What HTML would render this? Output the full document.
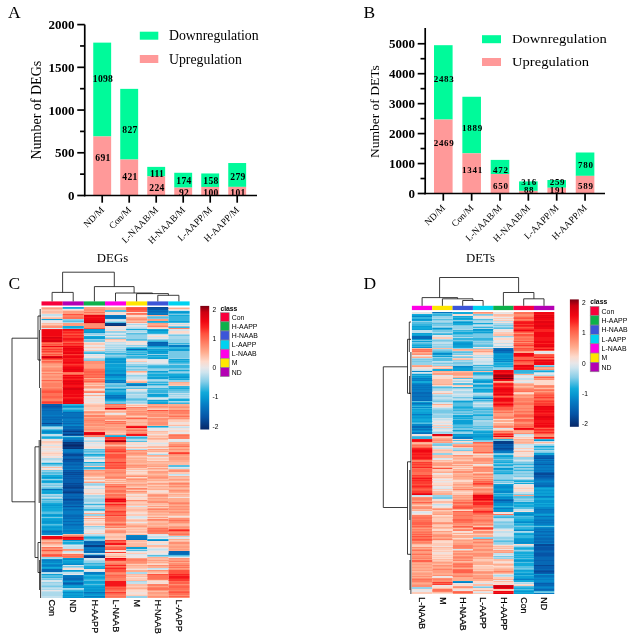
<!DOCTYPE html>
<html lang="en"><head><meta charset="utf-8"><title>DEGs and DETs figure</title>
<style>html,body{margin:0;padding:0;background:#fff}svg{display:block}text{white-space:pre}.s{font-family:"Liberation Serif", serif}.a{font-family:"Liberation Sans", sans-serif}.b{font-weight:bold}</style></head><body>
<svg width="640" height="641" viewBox="0 0 640 641">
<rect width="640" height="641" fill="#fff"/>
<g id="panelA">
<text class="s" x="8.0" y="18.3" font-size="17.5">A</text>
<rect x="93.25" y="42.63" width="17.90" height="93.82" fill="#00fa9a"/>
<rect x="93.25" y="136.45" width="17.90" height="59.05" fill="#ff9999"/>
<rect x="120.25" y="88.86" width="17.90" height="70.67" fill="#00fa9a"/>
<rect x="120.25" y="159.53" width="17.90" height="35.97" fill="#ff9999"/>
<rect x="147.25" y="166.87" width="17.90" height="9.48" fill="#00fa9a"/>
<rect x="147.25" y="176.36" width="17.90" height="19.14" fill="#ff9999"/>
<rect x="174.25" y="172.77" width="17.90" height="14.87" fill="#00fa9a"/>
<rect x="174.25" y="187.64" width="17.90" height="7.86" fill="#ff9999"/>
<rect x="201.25" y="173.45" width="17.90" height="13.50" fill="#00fa9a"/>
<rect x="201.25" y="186.96" width="17.90" height="8.54" fill="#ff9999"/>
<rect x="228.25" y="163.03" width="17.90" height="23.84" fill="#00fa9a"/>
<rect x="228.25" y="186.87" width="17.90" height="8.63" fill="#ff9999"/>
<g stroke="#000" stroke-width="1.7" fill="none">
<path d="M84.75 24.60V196.35"/>
<path d="M83.90 195.50H257.00"/>
<path d="M77.25 195.50H84.75"/>
<path d="M77.25 152.78H84.75"/>
<path d="M77.25 110.05H84.75"/>
<path d="M77.25 67.32H84.75"/>
<path d="M77.25 24.60H84.75"/>
<path d="M80.05 174.14H84.75"/>
<path d="M80.05 131.41H84.75"/>
<path d="M80.05 88.69H84.75"/>
<path d="M80.05 45.96H84.75"/>
<path d="M102.20 195.50V202.70"/>
<path d="M129.20 195.50V202.70"/>
<path d="M156.20 195.50V202.70"/>
<path d="M183.20 195.50V202.70"/>
<path d="M210.20 195.50V202.70"/>
<path d="M237.20 195.50V202.70"/>
</g>
<text class="s b" x="74.5" y="199.9" font-size="13" text-anchor="end">0</text>
<text class="s b" x="74.5" y="157.2" font-size="13" text-anchor="end">500</text>
<text class="s b" x="74.5" y="114.5" font-size="13" text-anchor="end">1000</text>
<text class="s b" x="74.5" y="71.7" font-size="13" text-anchor="end">1500</text>
<text class="s b" x="74.5" y="29.0" font-size="13" text-anchor="end">2000</text>
<text class="s b" x="103.0" y="161.1" font-size="9.6" text-anchor="middle" letter-spacing="0.3">691</text>
<text class="s b" x="103.0" y="81.6" font-size="9.6" text-anchor="middle" letter-spacing="0.3">1098</text>
<text class="s b" x="130.0" y="180.1" font-size="9.6" text-anchor="middle" letter-spacing="0.3">421</text>
<text class="s b" x="130.0" y="132.6" font-size="9.6" text-anchor="middle" letter-spacing="0.3">827</text>
<text class="s b" x="157.0" y="191.1" font-size="9.6" text-anchor="middle" letter-spacing="0.3">224</text>
<text class="s b" x="157.0" y="176.6" font-size="9.6" text-anchor="middle" letter-spacing="0.3">111</text>
<text class="s b" x="184.0" y="195.6" font-size="9.6" text-anchor="middle" letter-spacing="0.3">92</text>
<text class="s b" x="184.0" y="183.6" font-size="9.6" text-anchor="middle" letter-spacing="0.3">174</text>
<text class="s b" x="211.0" y="195.6" font-size="9.6" text-anchor="middle" letter-spacing="0.3">100</text>
<text class="s b" x="211.0" y="183.6" font-size="9.6" text-anchor="middle" letter-spacing="0.3">158</text>
<text class="s b" x="238.0" y="195.6" font-size="9.6" text-anchor="middle" letter-spacing="0.3">101</text>
<text class="s b" x="238.0" y="180.1" font-size="9.6" text-anchor="middle" letter-spacing="0.3">279</text>
<text class="s" font-size="9.5" text-anchor="end" transform="translate(104.7 210.5) rotate(-45)">ND/M</text>
<text class="s" font-size="9.5" text-anchor="end" transform="translate(131.7 210.5) rotate(-45)">Con/M</text>
<text class="s" font-size="9.5" text-anchor="end" transform="translate(158.7 210.5) rotate(-45)">L-NAAB/M</text>
<text class="s" font-size="9.5" text-anchor="end" transform="translate(185.7 210.5) rotate(-45)">H-NAAB/M</text>
<text class="s" font-size="9.5" text-anchor="end" transform="translate(212.7 210.5) rotate(-45)">L-AAPP/M</text>
<text class="s" font-size="9.5" text-anchor="end" transform="translate(239.7 210.5) rotate(-45)">H-AAPP/M</text>
<text class="s" font-size="14.0" text-anchor="middle" transform="translate(40.6 110.2) rotate(-90)">Number of DEGs</text>
<text class="s" font-size="12.8" text-anchor="middle" x="112.5" y="261.5">DEGs</text>
<rect x="139.8" y="31.7" width="18.5" height="8.0" fill="#00fa9a"/>
<rect x="139.8" y="55.0" width="18.5" height="8.0" fill="#ff9999"/>
<text class="s" font-size="13.8" transform="translate(169.0 40.3) scale(1.000 1)">Downregulation</text>
<text class="s" font-size="13.8" transform="translate(169.0 63.6) scale(1.000 1)">Upregulation</text>
</g>
<g id="panelB">
<text class="s" x="363.4" y="18.3" font-size="17.5">B</text>
<rect x="434.00" y="45.19" width="18.60" height="74.37" fill="#00fa9a"/>
<rect x="434.00" y="119.55" width="18.60" height="73.95" fill="#ff9999"/>
<rect x="462.35" y="96.76" width="18.60" height="56.58" fill="#00fa9a"/>
<rect x="462.35" y="153.34" width="18.60" height="40.16" fill="#ff9999"/>
<rect x="490.70" y="159.90" width="18.60" height="14.14" fill="#00fa9a"/>
<rect x="490.70" y="174.03" width="18.60" height="19.47" fill="#ff9999"/>
<rect x="519.05" y="181.40" width="18.60" height="9.46" fill="#00fa9a"/>
<rect x="519.05" y="190.86" width="18.60" height="2.64" fill="#ff9999"/>
<rect x="547.40" y="180.02" width="18.60" height="7.76" fill="#00fa9a"/>
<rect x="547.40" y="187.78" width="18.60" height="5.72" fill="#ff9999"/>
<rect x="575.75" y="152.50" width="18.60" height="23.36" fill="#00fa9a"/>
<rect x="575.75" y="175.86" width="18.60" height="17.64" fill="#ff9999"/>
<g stroke="#000" stroke-width="1.7" fill="none">
<path d="M425.20 28.00V194.35"/>
<path d="M424.35 193.50H605.00"/>
<path d="M417.70 193.50H425.20"/>
<path d="M417.70 163.55H425.20"/>
<path d="M417.70 133.60H425.20"/>
<path d="M417.70 103.65H425.20"/>
<path d="M417.70 73.70H425.20"/>
<path d="M417.70 43.75H425.20"/>
<path d="M420.50 178.53H425.20"/>
<path d="M420.50 148.57H425.20"/>
<path d="M420.50 118.62H425.20"/>
<path d="M420.50 88.67H425.20"/>
<path d="M420.50 58.72H425.20"/>
<path d="M443.30 193.50V200.70"/>
<path d="M471.65 193.50V200.70"/>
<path d="M500.00 193.50V200.70"/>
<path d="M528.35 193.50V200.70"/>
<path d="M556.70 193.50V200.70"/>
<path d="M585.05 193.50V200.70"/>
</g>
<text class="s b" x="414.9" y="197.9" font-size="13" text-anchor="end">0</text>
<text class="s b" x="414.9" y="168.0" font-size="13" text-anchor="end">1000</text>
<text class="s b" x="414.9" y="138.0" font-size="13" text-anchor="end">2000</text>
<text class="s b" x="414.9" y="108.0" font-size="13" text-anchor="end">3000</text>
<text class="s b" x="414.9" y="78.1" font-size="13" text-anchor="end">4000</text>
<text class="s b" x="414.9" y="48.1" font-size="13" text-anchor="end">5000</text>
<text class="s b" x="444.1" y="146.3" font-size="9.0" text-anchor="middle" letter-spacing="0.7">2469</text>
<text class="s b" x="444.1" y="82.3" font-size="9.0" text-anchor="middle" letter-spacing="0.7">2483</text>
<text class="s b" x="472.5" y="172.8" font-size="9.0" text-anchor="middle" letter-spacing="0.7">1341</text>
<text class="s b" x="472.5" y="131.3" font-size="9.0" text-anchor="middle" letter-spacing="0.7">1889</text>
<text class="s b" x="500.8" y="189.3" font-size="9.0" text-anchor="middle" letter-spacing="0.7">650</text>
<text class="s b" x="500.8" y="172.8" font-size="9.0" text-anchor="middle" letter-spacing="0.7">472</text>
<text class="s b" x="529.1" y="192.8" font-size="9.0" text-anchor="middle" letter-spacing="0.7">88</text>
<text class="s b" x="529.1" y="184.8" font-size="9.0" text-anchor="middle" letter-spacing="0.7">316</text>
<text class="s b" x="557.5" y="192.8" font-size="9.0" text-anchor="middle" letter-spacing="0.7">191</text>
<text class="s b" x="557.5" y="184.8" font-size="9.0" text-anchor="middle" letter-spacing="0.7">259</text>
<text class="s b" x="585.8" y="189.3" font-size="9.0" text-anchor="middle" letter-spacing="0.7">589</text>
<text class="s b" x="585.8" y="168.3" font-size="9.0" text-anchor="middle" letter-spacing="0.7">780</text>
<text class="s" font-size="9.5" text-anchor="end" transform="translate(445.8 208.5) rotate(-45)">ND/M</text>
<text class="s" font-size="9.5" text-anchor="end" transform="translate(474.2 208.5) rotate(-45)">Con/M</text>
<text class="s" font-size="9.5" text-anchor="end" transform="translate(502.5 208.5) rotate(-45)">L-NAAB/M</text>
<text class="s" font-size="9.5" text-anchor="end" transform="translate(530.8 208.5) rotate(-45)">H-NAAB/M</text>
<text class="s" font-size="9.5" text-anchor="end" transform="translate(559.2 208.5) rotate(-45)">L-AAPP/M</text>
<text class="s" font-size="9.5" text-anchor="end" transform="translate(587.5 208.5) rotate(-45)">H-AAPP/M</text>
<text class="s" font-size="13.5" text-anchor="middle" transform="translate(379.3 111.7) rotate(-90)">Number of DETs</text>
<text class="s" font-size="12.8" text-anchor="middle" x="480.5" y="261.5">DETs</text>
<rect x="482.0" y="35.2" width="19.0" height="8.0" fill="#00fa9a"/>
<rect x="482.0" y="58.0" width="19.0" height="8.0" fill="#ff9999"/>
<text class="s" font-size="13.4" transform="translate(512.0 42.7) scale(1.090 1)">Downregulation</text>
<text class="s" font-size="13.4" transform="translate(512.0 65.5) scale(1.090 1)">Upregulation</text>
</g>
<g id="panelC">
<text class="s" x="8.4" y="288.7" font-size="17.5">C</text>
<rect x="41.50" y="301.40" width="21.20" height="4.10" fill="#f8003c"/>
<rect x="62.65" y="301.40" width="21.20" height="4.10" fill="#b400b4"/>
<rect x="83.80" y="301.40" width="21.20" height="4.10" fill="#0db14b"/>
<rect x="104.95" y="301.40" width="21.20" height="4.10" fill="#ff00e6"/>
<rect x="126.10" y="301.40" width="21.20" height="4.10" fill="#ffe600"/>
<rect x="147.25" y="301.40" width="21.20" height="4.10" fill="#3c55d8"/>
<rect x="168.40" y="301.40" width="21.20" height="4.10" fill="#00d2f0"/>
<g fill="none" stroke-width="1.06">
<path stroke="#febba3" d="M41.50 307.5h21.20M41.50 309.5h21.20M41.50 311.5h21.20M41.50 312.5h21.20M41.50 318.5h21.20M41.50 323.5h21.20M41.50 467.5h21.20M41.50 541.5h21.20M41.50 544.5h21.20M62.65 534.5h21.20M83.80 383.5h21.20M83.80 388.5h21.20M83.80 405.5h21.20M83.80 406.5h21.20M83.80 414.5h21.20M83.80 476.5h21.20M83.80 478.5h21.20M83.80 479.5h21.20M83.80 516.5h21.20M83.80 524.5h21.20M104.95 307.5h21.20M104.95 339.5h21.20M104.95 412.5h21.20M104.95 431.5h21.20M104.95 432.5h21.20M104.95 445.5h21.20M104.95 529.5h21.20M104.95 533.5h21.20M104.95 536.5h21.20M104.95 537.5h21.20M126.10 321.5h21.20M126.10 381.5h21.20M126.10 405.5h21.20M126.10 420.5h21.20M126.10 421.5h21.20M126.10 423.5h21.20M126.10 424.5h21.20M126.10 447.5h21.20M126.10 457.5h21.20M126.10 459.5h21.20M126.10 463.5h21.20M126.10 469.5h21.20M126.10 482.5h21.20M126.10 483.5h21.20M126.10 486.5h21.20M126.10 493.5h21.20M126.10 501.5h21.20M126.10 504.5h21.20M126.10 509.5h21.20M126.10 510.5h21.20M126.10 520.5h21.20M126.10 524.5h21.20M126.10 527.5h21.20M126.10 529.5h21.20M126.10 531.5h21.20M126.10 532.5h21.20M126.10 534.5h21.20M126.10 540.5h21.20M126.10 541.5h21.20M126.10 543.5h21.20M126.10 544.5h21.20M126.10 545.5h21.20M126.10 566.5h21.20M126.10 567.5h21.20M126.10 574.5h21.20M126.10 576.5h21.20M126.10 580.5h21.20M126.10 584.5h21.20M126.10 585.5h21.20M126.10 587.5h21.20M147.25 408.5h21.20M147.25 417.5h21.20M147.25 431.5h21.20M147.25 436.5h21.20M147.25 439.5h21.20M147.25 446.5h21.20M147.25 447.5h21.20M147.25 450.5h21.20M147.25 456.5h21.20M147.25 462.5h21.20M147.25 463.5h21.20M147.25 469.5h21.20M147.25 474.5h21.20M147.25 479.5h21.20M147.25 487.5h21.20M147.25 488.5h21.20M147.25 497.5h21.20M147.25 503.5h21.20M147.25 504.5h21.20M147.25 513.5h21.20M147.25 515.5h21.20M147.25 521.5h21.20M147.25 522.5h21.20M147.25 525.5h21.20M147.25 545.5h21.20M147.25 546.5h21.20M147.25 558.5h21.20M147.25 559.5h21.20M147.25 561.5h21.20M147.25 572.5h21.20M147.25 591.5h21.20M168.40 383.5h21.20M168.40 384.5h21.20M168.40 419.5h21.20M168.40 425.5h21.20M168.40 462.5h21.20M168.40 463.5h21.20M168.40 464.5h21.20M168.40 477.5h21.20M168.40 478.5h21.20M168.40 488.5h21.20M168.40 495.5h21.20M168.40 496.5h21.20M168.40 515.5h21.20M168.40 524.5h21.20M168.40 525.5h21.20M168.40 541.5h21.20"/>
<path stroke="#ff9d80" d="M41.50 308.5h21.20M41.50 364.5h21.20M41.50 365.5h21.20M41.50 367.5h21.20M41.50 374.5h21.20M41.50 375.5h21.20M41.50 378.5h21.20M41.50 379.5h21.20M41.50 543.5h21.20M41.50 552.5h21.20M41.50 553.5h21.20M62.65 311.5h21.20M62.65 312.5h21.20M62.65 313.5h21.20M62.65 323.5h21.20M62.65 324.5h21.20M62.65 325.5h21.20M62.65 550.5h21.20M83.80 307.5h21.20M83.80 308.5h21.20M83.80 311.5h21.20M83.80 313.5h21.20M83.80 364.5h21.20M83.80 365.5h21.20M83.80 366.5h21.20M83.80 367.5h21.20M83.80 386.5h21.20M83.80 387.5h21.20M83.80 411.5h21.20M83.80 423.5h21.20M83.80 427.5h21.20M83.80 428.5h21.20M83.80 430.5h21.20M83.80 473.5h21.20M83.80 474.5h21.20M83.80 482.5h21.20M83.80 518.5h21.20M104.95 416.5h21.20M104.95 417.5h21.20M104.95 419.5h21.20M104.95 424.5h21.20M104.95 425.5h21.20M104.95 426.5h21.20M104.95 428.5h21.20M104.95 429.5h21.20M104.95 469.5h21.20M104.95 474.5h21.20M104.95 475.5h21.20M104.95 493.5h21.20M104.95 522.5h21.20M104.95 526.5h21.20M104.95 530.5h21.20M104.95 545.5h21.20M126.10 318.5h21.20M126.10 322.5h21.20M126.10 408.5h21.20M126.10 409.5h21.20M126.10 412.5h21.20M126.10 417.5h21.20M126.10 425.5h21.20M126.10 428.5h21.20M126.10 431.5h21.20M126.10 452.5h21.20M126.10 454.5h21.20M126.10 466.5h21.20M126.10 467.5h21.20M126.10 484.5h21.20M126.10 489.5h21.20M126.10 526.5h21.20M126.10 558.5h21.20M126.10 563.5h21.20M147.25 319.5h21.20M147.25 320.5h21.20M147.25 323.5h21.20M147.25 325.5h21.20M147.25 404.5h21.20M147.25 407.5h21.20M147.25 413.5h21.20M147.25 420.5h21.20M147.25 421.5h21.20M147.25 449.5h21.20M147.25 466.5h21.20M147.25 468.5h21.20M147.25 471.5h21.20M147.25 472.5h21.20M147.25 476.5h21.20M147.25 478.5h21.20M147.25 483.5h21.20M147.25 494.5h21.20M147.25 496.5h21.20M147.25 498.5h21.20M147.25 506.5h21.20M147.25 508.5h21.20M147.25 511.5h21.20M147.25 517.5h21.20M147.25 527.5h21.20M147.25 560.5h21.20M147.25 586.5h21.20M147.25 590.5h21.20M147.25 592.5h21.20M147.25 593.5h21.20M147.25 597.5h21.20M168.40 406.5h21.20M168.40 414.5h21.20M168.40 417.5h21.20M168.40 455.5h21.20M168.40 457.5h21.20M168.40 458.5h21.20M168.40 459.5h21.20M168.40 479.5h21.20M168.40 491.5h21.20M168.40 504.5h21.20M168.40 507.5h21.20M168.40 508.5h21.20M168.40 511.5h21.20M168.40 526.5h21.20M168.40 528.5h21.20M168.40 535.5h21.20M168.40 546.5h21.20M168.40 547.5h21.20M168.40 549.5h21.20M168.40 559.5h21.20M168.40 560.5h21.20M168.40 568.5h21.20"/>
<path stroke="#fecbb7" d="M41.50 310.5h21.20M41.50 313.5h21.20M41.50 317.5h21.20M41.50 324.5h21.20M41.50 441.5h21.20M41.50 442.5h21.20M41.50 453.5h21.20M41.50 545.5h21.20M62.65 310.5h21.20M83.80 343.5h21.20M83.80 344.5h21.20M83.80 347.5h21.20M83.80 350.5h21.20M83.80 385.5h21.20M83.80 390.5h21.20M83.80 404.5h21.20M83.80 407.5h21.20M83.80 408.5h21.20M83.80 409.5h21.20M83.80 466.5h21.20M83.80 481.5h21.20M83.80 493.5h21.20M83.80 520.5h21.20M83.80 523.5h21.20M83.80 533.5h21.20M104.95 410.5h21.20M104.95 420.5h21.20M104.95 433.5h21.20M104.95 479.5h21.20M104.95 481.5h21.20M104.95 483.5h21.20M104.95 528.5h21.20M104.95 534.5h21.20M104.95 535.5h21.20M104.95 538.5h21.20M104.95 539.5h21.20M104.95 554.5h21.20M104.95 555.5h21.20M104.95 557.5h21.20M126.10 361.5h21.20M126.10 372.5h21.20M126.10 416.5h21.20M126.10 456.5h21.20M126.10 468.5h21.20M126.10 471.5h21.20M126.10 474.5h21.20M126.10 487.5h21.20M126.10 490.5h21.20M126.10 496.5h21.20M126.10 502.5h21.20M126.10 503.5h21.20M126.10 505.5h21.20M126.10 507.5h21.20M126.10 508.5h21.20M126.10 511.5h21.20M126.10 514.5h21.20M126.10 515.5h21.20M126.10 519.5h21.20M126.10 521.5h21.20M126.10 523.5h21.20M126.10 528.5h21.20M126.10 530.5h21.20M126.10 542.5h21.20M126.10 553.5h21.20M126.10 564.5h21.20M126.10 568.5h21.20M126.10 575.5h21.20M126.10 578.5h21.20M126.10 579.5h21.20M126.10 586.5h21.20M126.10 589.5h21.20M126.10 595.5h21.20M147.25 327.5h21.20M147.25 409.5h21.20M147.25 432.5h21.20M147.25 433.5h21.20M147.25 435.5h21.20M147.25 437.5h21.20M147.25 458.5h21.20M147.25 459.5h21.20M147.25 467.5h21.20M147.25 470.5h21.20M147.25 481.5h21.20M147.25 482.5h21.20M147.25 485.5h21.20M147.25 493.5h21.20M147.25 505.5h21.20M147.25 507.5h21.20M147.25 516.5h21.20M147.25 518.5h21.20M147.25 563.5h21.20M147.25 573.5h21.20M147.25 580.5h21.20M168.40 385.5h21.20M168.40 420.5h21.20M168.40 421.5h21.20M168.40 472.5h21.20M168.40 473.5h21.20M168.40 481.5h21.20M168.40 493.5h21.20M168.40 517.5h21.20M168.40 540.5h21.20"/>
<path stroke="#c2e0ed" d="M41.50 314.5h21.20M41.50 315.5h21.20M41.50 434.5h21.20M41.50 435.5h21.20M41.50 460.5h21.20M41.50 466.5h21.20M41.50 497.5h21.20M41.50 573.5h21.20M41.50 588.5h21.20M41.50 591.5h21.20M41.50 596.5h21.20M41.50 597.5h21.20M62.65 546.5h21.20M62.65 547.5h21.20M62.65 548.5h21.20M62.65 551.5h21.20M62.65 572.5h21.20M62.65 573.5h21.20M83.80 335.5h21.20M83.80 437.5h21.20M83.80 440.5h21.20M83.80 459.5h21.20M83.80 488.5h21.20M83.80 497.5h21.20M83.80 502.5h21.20M83.80 506.5h21.20M83.80 527.5h21.20M83.80 528.5h21.20M83.80 534.5h21.20M83.80 553.5h21.20M104.95 319.5h21.20M104.95 334.5h21.20M104.95 342.5h21.20M104.95 344.5h21.20M104.95 346.5h21.20M104.95 348.5h21.20M126.10 327.5h21.20M126.10 332.5h21.20M126.10 346.5h21.20M126.10 362.5h21.20M126.10 377.5h21.20M126.10 378.5h21.20M126.10 391.5h21.20M126.10 394.5h21.20M126.10 582.5h21.20M126.10 583.5h21.20M147.25 334.5h21.20M147.25 536.5h21.20M147.25 537.5h21.20M147.25 549.5h21.20M147.25 568.5h21.20M168.40 324.5h21.20M168.40 393.5h21.20M168.40 395.5h21.20M168.40 397.5h21.20M168.40 427.5h21.20M168.40 468.5h21.20M168.40 474.5h21.20"/>
<path stroke="#e8e6e8" d="M41.50 316.5h21.20M41.50 321.5h21.20M41.50 322.5h21.20M41.50 440.5h21.20M41.50 448.5h21.20M41.50 450.5h21.20M41.50 456.5h21.20M41.50 468.5h21.20M41.50 590.5h21.20M62.65 309.5h21.20M62.65 574.5h21.20M83.80 345.5h21.20M83.80 349.5h21.20M83.80 354.5h21.20M83.80 356.5h21.20M83.80 393.5h21.20M83.80 397.5h21.20M83.80 402.5h21.20M83.80 439.5h21.20M83.80 444.5h21.20M83.80 445.5h21.20M83.80 448.5h21.20M83.80 460.5h21.20M83.80 461.5h21.20M83.80 480.5h21.20M83.80 486.5h21.20M83.80 487.5h21.20M83.80 512.5h21.20M83.80 530.5h21.20M83.80 532.5h21.20M83.80 570.5h21.20M104.95 327.5h21.20M104.95 328.5h21.20M104.95 336.5h21.20M104.95 413.5h21.20M126.10 323.5h21.20M126.10 325.5h21.20M126.10 343.5h21.20M126.10 373.5h21.20M126.10 445.5h21.20M126.10 518.5h21.20M126.10 522.5h21.20M126.10 555.5h21.20M126.10 556.5h21.20M126.10 557.5h21.20M147.25 335.5h21.20M147.25 338.5h21.20M147.25 360.5h21.20M147.25 361.5h21.20M147.25 362.5h21.20M147.25 428.5h21.20M147.25 429.5h21.20M147.25 430.5h21.20M147.25 453.5h21.20M147.25 535.5h21.20M147.25 538.5h21.20M147.25 553.5h21.20M168.40 429.5h21.20M168.40 432.5h21.20M168.40 433.5h21.20M168.40 439.5h21.20M168.40 440.5h21.20M168.40 557.5h21.20"/>
<path stroke="#0ca0d5" d="M41.50 319.5h21.20M41.50 430.5h21.20M41.50 433.5h21.20M41.50 481.5h21.20M41.50 490.5h21.20M41.50 492.5h21.20M41.50 504.5h21.20M41.50 507.5h21.20M41.50 514.5h21.20M41.50 519.5h21.20M41.50 520.5h21.20M41.50 523.5h21.20M41.50 526.5h21.20M41.50 528.5h21.20M41.50 529.5h21.20M41.50 563.5h21.20M41.50 568.5h21.20M41.50 574.5h21.20M62.65 407.5h21.20M62.65 410.5h21.20M62.65 561.5h21.20M62.65 562.5h21.20M62.65 570.5h21.20M62.65 586.5h21.20M62.65 593.5h21.20M62.65 594.5h21.20M62.65 596.5h21.20M83.80 330.5h21.20M83.80 331.5h21.20M83.80 337.5h21.20M83.80 338.5h21.20M83.80 568.5h21.20M83.80 577.5h21.20M83.80 581.5h21.20M83.80 582.5h21.20M83.80 586.5h21.20M83.80 588.5h21.20M83.80 591.5h21.20M83.80 595.5h21.20M104.95 358.5h21.20M104.95 360.5h21.20M104.95 364.5h21.20M104.95 365.5h21.20M104.95 366.5h21.20M104.95 368.5h21.20M104.95 369.5h21.20M104.95 372.5h21.20M104.95 373.5h21.20M104.95 393.5h21.20M104.95 394.5h21.20M126.10 383.5h21.20M126.10 547.5h21.20M126.10 548.5h21.20M147.25 346.5h21.20M147.25 349.5h21.20M147.25 352.5h21.20M147.25 353.5h21.20M147.25 355.5h21.20M147.25 358.5h21.20M147.25 371.5h21.20M147.25 377.5h21.20M147.25 378.5h21.20M147.25 394.5h21.20M147.25 395.5h21.20M147.25 400.5h21.20M147.25 403.5h21.20M168.40 311.5h21.20M168.40 321.5h21.20M168.40 349.5h21.20M168.40 350.5h21.20M168.40 359.5h21.20M168.40 376.5h21.20"/>
<path stroke="#d7e5ec" d="M41.50 320.5h21.20M41.50 328.5h21.20M41.50 445.5h21.20M41.50 461.5h21.20M41.50 535.5h21.20M41.50 580.5h21.20M41.50 581.5h21.20M62.65 545.5h21.20M62.65 552.5h21.20M62.65 565.5h21.20M83.80 355.5h21.20M83.80 438.5h21.20M83.80 443.5h21.20M83.80 457.5h21.20M83.80 511.5h21.20M83.80 529.5h21.20M83.80 558.5h21.20M83.80 559.5h21.20M83.80 571.5h21.20M104.95 320.5h21.20M104.95 329.5h21.20M104.95 333.5h21.20M104.95 343.5h21.20M126.10 326.5h21.20M126.10 363.5h21.20M126.10 374.5h21.20M126.10 379.5h21.20M126.10 390.5h21.20M126.10 506.5h21.20M126.10 516.5h21.20M126.10 517.5h21.20M126.10 551.5h21.20M126.10 554.5h21.20M147.25 337.5h21.20M147.25 359.5h21.20M147.25 363.5h21.20M147.25 398.5h21.20M147.25 443.5h21.20M147.25 534.5h21.20M147.25 544.5h21.20M147.25 548.5h21.20M147.25 550.5h21.20M147.25 554.5h21.20M147.25 569.5h21.20M168.40 310.5h21.20M168.40 329.5h21.20M168.40 330.5h21.20M168.40 426.5h21.20M168.40 441.5h21.20M168.40 467.5h21.20M168.40 475.5h21.20M168.40 538.5h21.20"/>
<path stroke="#ffac8e" d="M41.50 325.5h21.20M41.50 366.5h21.20M41.50 372.5h21.20M41.50 540.5h21.20M83.80 378.5h21.20M83.80 384.5h21.20M83.80 395.5h21.20M83.80 413.5h21.20M83.80 417.5h21.20M83.80 426.5h21.20M83.80 431.5h21.20M83.80 471.5h21.20M83.80 472.5h21.20M83.80 475.5h21.20M83.80 513.5h21.20M104.95 308.5h21.20M104.95 309.5h21.20M104.95 411.5h21.20M104.95 415.5h21.20M104.95 427.5h21.20M104.95 430.5h21.20M104.95 434.5h21.20M104.95 480.5h21.20M104.95 482.5h21.20M104.95 556.5h21.20M126.10 317.5h21.20M126.10 320.5h21.20M126.10 371.5h21.20M126.10 382.5h21.20M126.10 410.5h21.20M126.10 415.5h21.20M126.10 419.5h21.20M126.10 422.5h21.20M126.10 451.5h21.20M126.10 455.5h21.20M126.10 458.5h21.20M126.10 460.5h21.20M126.10 461.5h21.20M126.10 462.5h21.20M126.10 464.5h21.20M126.10 475.5h21.20M126.10 478.5h21.20M126.10 480.5h21.20M126.10 481.5h21.20M126.10 485.5h21.20M126.10 492.5h21.20M126.10 525.5h21.20M126.10 546.5h21.20M126.10 565.5h21.20M126.10 570.5h21.20M126.10 571.5h21.20M126.10 588.5h21.20M147.25 315.5h21.20M147.25 324.5h21.20M147.25 405.5h21.20M147.25 425.5h21.20M147.25 438.5h21.20M147.25 451.5h21.20M147.25 455.5h21.20M147.25 461.5h21.20M147.25 464.5h21.20M147.25 465.5h21.20M147.25 473.5h21.20M147.25 475.5h21.20M147.25 480.5h21.20M147.25 484.5h21.20M147.25 486.5h21.20M147.25 489.5h21.20M147.25 499.5h21.20M147.25 500.5h21.20M147.25 510.5h21.20M147.25 512.5h21.20M147.25 514.5h21.20M147.25 523.5h21.20M147.25 524.5h21.20M147.25 526.5h21.20M147.25 557.5h21.20M147.25 562.5h21.20M147.25 566.5h21.20M147.25 567.5h21.20M147.25 571.5h21.20M147.25 594.5h21.20M147.25 595.5h21.20M168.40 308.5h21.20M168.40 382.5h21.20M168.40 404.5h21.20M168.40 405.5h21.20M168.40 408.5h21.20M168.40 409.5h21.20M168.40 442.5h21.20M168.40 443.5h21.20M168.40 447.5h21.20M168.40 448.5h21.20M168.40 450.5h21.20M168.40 451.5h21.20M168.40 456.5h21.20M168.40 460.5h21.20M168.40 461.5h21.20M168.40 469.5h21.20M168.40 476.5h21.20M168.40 480.5h21.20M168.40 482.5h21.20M168.40 485.5h21.20M168.40 487.5h21.20M168.40 489.5h21.20M168.40 492.5h21.20M168.40 494.5h21.20M168.40 498.5h21.20M168.40 499.5h21.20M168.40 500.5h21.20M168.40 501.5h21.20M168.40 505.5h21.20M168.40 510.5h21.20M168.40 513.5h21.20M168.40 514.5h21.20M168.40 523.5h21.20M168.40 539.5h21.20M168.40 544.5h21.20M168.40 545.5h21.20M168.40 548.5h21.20M168.40 550.5h21.20M168.40 562.5h21.20"/>
<path stroke="#ff8f72" d="M41.50 326.5h21.20M41.50 327.5h21.20M41.50 360.5h21.20M41.50 363.5h21.20M41.50 368.5h21.20M41.50 369.5h21.20M41.50 371.5h21.20M41.50 376.5h21.20M41.50 377.5h21.20M41.50 381.5h21.20M41.50 382.5h21.20M41.50 387.5h21.20M41.50 542.5h21.20M41.50 548.5h21.20M41.50 549.5h21.20M41.50 551.5h21.20M62.65 535.5h21.20M62.65 549.5h21.20M83.80 309.5h21.20M83.80 310.5h21.20M83.80 324.5h21.20M83.80 325.5h21.20M83.80 326.5h21.20M83.80 327.5h21.20M83.80 361.5h21.20M83.80 362.5h21.20M83.80 363.5h21.20M83.80 368.5h21.20M83.80 382.5h21.20M83.80 391.5h21.20M83.80 412.5h21.20M83.80 418.5h21.20M83.80 419.5h21.20M83.80 421.5h21.20M83.80 422.5h21.20M83.80 424.5h21.20M83.80 425.5h21.20M83.80 429.5h21.20M83.80 470.5h21.20M104.95 405.5h21.20M104.95 418.5h21.20M104.95 422.5h21.20M104.95 444.5h21.20M104.95 446.5h21.20M104.95 470.5h21.20M104.95 471.5h21.20M104.95 473.5h21.20M104.95 476.5h21.20M104.95 478.5h21.20M104.95 485.5h21.20M104.95 488.5h21.20M104.95 489.5h21.20M104.95 531.5h21.20M104.95 532.5h21.20M104.95 561.5h21.20M104.95 562.5h21.20M104.95 573.5h21.20M126.10 319.5h21.20M126.10 411.5h21.20M126.10 413.5h21.20M126.10 414.5h21.20M126.10 429.5h21.20M126.10 432.5h21.20M126.10 450.5h21.20M126.10 453.5h21.20M126.10 465.5h21.20M126.10 476.5h21.20M126.10 479.5h21.20M126.10 491.5h21.20M126.10 500.5h21.20M126.10 561.5h21.20M126.10 562.5h21.20M147.25 406.5h21.20M147.25 411.5h21.20M147.25 412.5h21.20M147.25 414.5h21.20M147.25 415.5h21.20M147.25 416.5h21.20M147.25 418.5h21.20M147.25 419.5h21.20M147.25 422.5h21.20M147.25 423.5h21.20M147.25 424.5h21.20M147.25 477.5h21.20M147.25 495.5h21.20M147.25 501.5h21.20M147.25 502.5h21.20M147.25 520.5h21.20M147.25 565.5h21.20M147.25 570.5h21.20M147.25 596.5h21.20M168.40 407.5h21.20M168.40 415.5h21.20M168.40 418.5h21.20M168.40 434.5h21.20M168.40 444.5h21.20M168.40 445.5h21.20M168.40 449.5h21.20M168.40 454.5h21.20M168.40 470.5h21.20M168.40 471.5h21.20M168.40 484.5h21.20M168.40 486.5h21.20M168.40 490.5h21.20M168.40 502.5h21.20M168.40 506.5h21.20M168.40 509.5h21.20M168.40 512.5h21.20M168.40 518.5h21.20M168.40 519.5h21.20M168.40 521.5h21.20M168.40 522.5h21.20M168.40 527.5h21.20M168.40 532.5h21.20M168.40 542.5h21.20M168.40 543.5h21.20M168.40 558.5h21.20M168.40 563.5h21.20M168.40 564.5h21.20M168.40 566.5h21.20M168.40 569.5h21.20M168.40 584.5h21.20M168.40 595.5h21.20M168.40 597.5h21.20"/>
<path stroke="#f5151a" d="M41.50 329.5h21.20M41.50 336.5h21.20M62.65 330.5h21.20M62.65 338.5h21.20M62.65 339.5h21.20M62.65 347.5h21.20M62.65 351.5h21.20M62.65 355.5h21.20M62.65 359.5h21.20M62.65 360.5h21.20M62.65 361.5h21.20M62.65 363.5h21.20M62.65 366.5h21.20M62.65 378.5h21.20M62.65 385.5h21.20M62.65 386.5h21.20M62.65 394.5h21.20M62.65 398.5h21.20M62.65 538.5h21.20M62.65 539.5h21.20M83.80 317.5h21.20M104.95 500.5h21.20M104.95 543.5h21.20M104.95 544.5h21.20M104.95 581.5h21.20M104.95 582.5h21.20M104.95 583.5h21.20M104.95 584.5h21.20M104.95 585.5h21.20M126.10 426.5h21.20M126.10 434.5h21.20M126.10 435.5h21.20M168.40 576.5h21.20M168.40 577.5h21.20"/>
<path stroke="#f00612" d="M41.50 330.5h21.20M41.50 331.5h21.20M41.50 332.5h21.20M41.50 333.5h21.20M41.50 334.5h21.20M41.50 335.5h21.20M41.50 339.5h21.20M41.50 346.5h21.20M41.50 536.5h21.20M41.50 537.5h21.20M41.50 538.5h21.20M62.65 329.5h21.20M62.65 346.5h21.20M62.65 349.5h21.20M62.65 350.5h21.20M62.65 352.5h21.20M62.65 356.5h21.20M62.65 357.5h21.20M62.65 362.5h21.20M62.65 367.5h21.20M62.65 368.5h21.20M62.65 370.5h21.20M62.65 371.5h21.20M62.65 375.5h21.20M62.65 377.5h21.20M62.65 380.5h21.20M62.65 382.5h21.20M62.65 384.5h21.20M62.65 387.5h21.20M62.65 390.5h21.20M62.65 391.5h21.20M62.65 392.5h21.20M62.65 393.5h21.20M62.65 395.5h21.20M62.65 396.5h21.20M62.65 399.5h21.20M62.65 402.5h21.20M83.80 316.5h21.20M83.80 318.5h21.20M83.80 319.5h21.20M83.80 432.5h21.20M104.95 501.5h21.20M104.95 558.5h21.20M126.10 427.5h21.20"/>
<path stroke="#d90211" d="M41.50 337.5h21.20M41.50 340.5h21.20M41.50 341.5h21.20M62.65 388.5h21.20M62.65 389.5h21.20M83.80 433.5h21.20M104.95 440.5h21.20"/>
<path stroke="#e40411" d="M41.50 338.5h21.20M41.50 356.5h21.20M62.65 348.5h21.20M62.65 353.5h21.20M62.65 369.5h21.20M62.65 381.5h21.20M62.65 383.5h21.20M62.65 400.5h21.20M62.65 401.5h21.20M62.65 403.5h21.20M62.65 537.5h21.20M83.80 315.5h21.20M83.80 320.5h21.20M83.80 321.5h21.20M83.80 434.5h21.20M104.95 408.5h21.20M104.95 499.5h21.20"/>
<path stroke="#ff523e" d="M41.50 342.5h21.20M41.50 344.5h21.20M41.50 354.5h21.20M41.50 359.5h21.20M41.50 391.5h21.20M41.50 392.5h21.20M41.50 401.5h21.20M41.50 403.5h21.20M41.50 550.5h21.20M41.50 555.5h21.20M62.65 314.5h21.20M62.65 334.5h21.20M83.80 328.5h21.20M104.95 439.5h21.20M104.95 449.5h21.20M104.95 450.5h21.20M104.95 454.5h21.20M104.95 455.5h21.20M104.95 456.5h21.20M104.95 457.5h21.20M104.95 465.5h21.20M104.95 467.5h21.20M104.95 468.5h21.20M104.95 505.5h21.20M104.95 512.5h21.20M104.95 549.5h21.20M104.95 567.5h21.20M104.95 569.5h21.20M104.95 570.5h21.20M104.95 571.5h21.20M104.95 588.5h21.20M126.10 308.5h21.20M126.10 309.5h21.20M147.25 410.5h21.20M147.25 574.5h21.20M168.40 452.5h21.20M168.40 529.5h21.20M168.40 570.5h21.20M168.40 571.5h21.20M168.40 572.5h21.20M168.40 573.5h21.20M168.40 592.5h21.20"/>
<path stroke="#ff7157" d="M41.50 343.5h21.20M41.50 355.5h21.20M41.50 362.5h21.20M41.50 389.5h21.20M41.50 393.5h21.20M41.50 394.5h21.20M41.50 395.5h21.20M41.50 398.5h21.20M41.50 539.5h21.20M41.50 547.5h21.20M41.50 556.5h21.20M62.65 317.5h21.20M62.65 318.5h21.20M62.65 372.5h21.20M62.65 536.5h21.20M62.65 554.5h21.20M62.65 556.5h21.20M83.80 312.5h21.20M83.80 369.5h21.20M83.80 370.5h21.20M83.80 373.5h21.20M83.80 375.5h21.20M83.80 376.5h21.20M104.95 404.5h21.20M104.95 421.5h21.20M104.95 423.5h21.20M104.95 443.5h21.20M104.95 447.5h21.20M104.95 448.5h21.20M104.95 452.5h21.20M104.95 459.5h21.20M104.95 460.5h21.20M104.95 461.5h21.20M104.95 490.5h21.20M104.95 491.5h21.20M104.95 494.5h21.20M104.95 495.5h21.20M104.95 497.5h21.20M104.95 503.5h21.20M104.95 507.5h21.20M104.95 508.5h21.20M104.95 510.5h21.20M104.95 517.5h21.20M104.95 518.5h21.20M104.95 519.5h21.20M104.95 520.5h21.20M104.95 564.5h21.20M104.95 566.5h21.20M104.95 576.5h21.20M104.95 577.5h21.20M104.95 590.5h21.20M104.95 594.5h21.20M104.95 596.5h21.20M126.10 313.5h21.20M126.10 430.5h21.20M147.25 528.5h21.20M147.25 530.5h21.20M147.25 531.5h21.20M147.25 575.5h21.20M147.25 576.5h21.20M147.25 577.5h21.20M147.25 578.5h21.20M147.25 588.5h21.20M147.25 589.5h21.20M168.40 410.5h21.20M168.40 416.5h21.20M168.40 435.5h21.20M168.40 446.5h21.20M168.40 520.5h21.20M168.40 531.5h21.20M168.40 534.5h21.20M168.40 565.5h21.20M168.40 567.5h21.20M168.40 581.5h21.20M168.40 585.5h21.20M168.40 588.5h21.20M168.40 589.5h21.20M168.40 593.5h21.20M168.40 594.5h21.20"/>
<path stroke="#ff614b" d="M41.50 345.5h21.20M41.50 347.5h21.20M41.50 348.5h21.20M41.50 350.5h21.20M41.50 352.5h21.20M41.50 361.5h21.20M41.50 380.5h21.20M41.50 390.5h21.20M41.50 396.5h21.20M41.50 397.5h21.20M41.50 554.5h21.20M62.65 342.5h21.20M62.65 374.5h21.20M83.80 371.5h21.20M83.80 372.5h21.20M83.80 374.5h21.20M83.80 377.5h21.20M83.80 381.5h21.20M104.95 409.5h21.20M104.95 442.5h21.20M104.95 458.5h21.20M104.95 463.5h21.20M104.95 464.5h21.20M104.95 466.5h21.20M104.95 486.5h21.20M104.95 502.5h21.20M104.95 506.5h21.20M104.95 513.5h21.20M104.95 514.5h21.20M104.95 524.5h21.20M104.95 541.5h21.20M104.95 542.5h21.20M104.95 547.5h21.20M104.95 548.5h21.20M104.95 575.5h21.20M104.95 587.5h21.20M104.95 589.5h21.20M104.95 593.5h21.20M126.10 307.5h21.20M126.10 310.5h21.20M126.10 311.5h21.20M126.10 418.5h21.20M168.40 582.5h21.20M168.40 583.5h21.20M168.40 586.5h21.20M168.40 587.5h21.20M168.40 591.5h21.20M168.40 596.5h21.20"/>
<path stroke="#fc3b30" d="M41.50 349.5h21.20M41.50 351.5h21.20M41.50 402.5h21.20M62.65 331.5h21.20M62.65 333.5h21.20M62.65 336.5h21.20M62.65 337.5h21.20M62.65 341.5h21.20M62.65 344.5h21.20M62.65 345.5h21.20M62.65 354.5h21.20M62.65 364.5h21.20M104.95 437.5h21.20M104.95 438.5h21.20M104.95 451.5h21.20M104.95 462.5h21.20M104.95 498.5h21.20M104.95 511.5h21.20M104.95 515.5h21.20M104.95 540.5h21.20M104.95 552.5h21.20M104.95 560.5h21.20M104.95 586.5h21.20M104.95 592.5h21.20M168.40 453.5h21.20M168.40 575.5h21.20M168.40 579.5h21.20M168.40 580.5h21.20"/>
<path stroke="#ff8064" d="M41.50 353.5h21.20M41.50 370.5h21.20M41.50 373.5h21.20M41.50 383.5h21.20M41.50 384.5h21.20M41.50 385.5h21.20M41.50 386.5h21.20M41.50 388.5h21.20M41.50 399.5h21.20M41.50 400.5h21.20M62.65 315.5h21.20M62.65 316.5h21.20M62.65 373.5h21.20M62.65 555.5h21.20M62.65 557.5h21.20M83.80 314.5h21.20M83.80 323.5h21.20M83.80 379.5h21.20M83.80 380.5h21.20M83.80 392.5h21.20M83.80 415.5h21.20M83.80 416.5h21.20M83.80 420.5h21.20M83.80 435.5h21.20M83.80 436.5h21.20M104.95 406.5h21.20M104.95 407.5h21.20M104.95 453.5h21.20M104.95 472.5h21.20M104.95 477.5h21.20M104.95 484.5h21.20M104.95 487.5h21.20M104.95 492.5h21.20M104.95 496.5h21.20M104.95 509.5h21.20M104.95 516.5h21.20M104.95 521.5h21.20M104.95 523.5h21.20M104.95 525.5h21.20M104.95 527.5h21.20M104.95 546.5h21.20M104.95 563.5h21.20M104.95 572.5h21.20M104.95 574.5h21.20M104.95 578.5h21.20M104.95 579.5h21.20M104.95 580.5h21.20M104.95 591.5h21.20M104.95 595.5h21.20M104.95 597.5h21.20M126.10 314.5h21.20M126.10 407.5h21.20M126.10 433.5h21.20M126.10 488.5h21.20M126.10 559.5h21.20M126.10 560.5h21.20M147.25 326.5h21.20M147.25 509.5h21.20M147.25 519.5h21.20M147.25 529.5h21.20M147.25 532.5h21.20M147.25 533.5h21.20M147.25 579.5h21.20M147.25 584.5h21.20M147.25 585.5h21.20M147.25 587.5h21.20M168.40 328.5h21.20M168.40 411.5h21.20M168.40 412.5h21.20M168.40 413.5h21.20M168.40 436.5h21.20M168.40 437.5h21.20M168.40 438.5h21.20M168.40 483.5h21.20M168.40 503.5h21.20M168.40 533.5h21.20M168.40 561.5h21.20M168.40 590.5h21.20"/>
<path stroke="#cd0010" d="M41.50 357.5h21.20M83.80 322.5h21.20"/>
<path stroke="#fa2422" d="M41.50 358.5h21.20M62.65 332.5h21.20M62.65 335.5h21.20M62.65 340.5h21.20M62.65 343.5h21.20M62.65 358.5h21.20M62.65 365.5h21.20M62.65 376.5h21.20M62.65 379.5h21.20M62.65 397.5h21.20M104.95 504.5h21.20M104.95 559.5h21.20M104.95 565.5h21.20M104.95 568.5h21.20M168.40 530.5h21.20M168.40 574.5h21.20M168.40 578.5h21.20"/>
<path stroke="#065eae" d="M41.50 404.5h21.20M41.50 405.5h21.20M41.50 407.5h21.20M62.65 429.5h21.20M62.65 432.5h21.20M62.65 433.5h21.20M62.65 435.5h21.20M62.65 453.5h21.20M62.65 456.5h21.20M62.65 458.5h21.20M62.65 464.5h21.20M62.65 471.5h21.20M62.65 475.5h21.20M62.65 477.5h21.20M62.65 479.5h21.20M62.65 480.5h21.20M62.65 481.5h21.20M62.65 482.5h21.20M62.65 489.5h21.20M62.65 496.5h21.20M62.65 498.5h21.20M62.65 502.5h21.20M62.65 503.5h21.20M62.65 583.5h21.20M83.80 542.5h21.20M83.80 555.5h21.20M147.25 342.5h21.20"/>
<path stroke="#0654a6" d="M41.50 406.5h21.20M62.65 430.5h21.20M62.65 460.5h21.20M62.65 461.5h21.20M62.65 470.5h21.20M62.65 473.5h21.20M62.65 476.5h21.20M62.65 478.5h21.20M62.65 484.5h21.20M62.65 490.5h21.20M62.65 493.5h21.20M62.65 500.5h21.20M62.65 506.5h21.20M147.25 308.5h21.20M147.25 309.5h21.20"/>
<path stroke="#0668b5" d="M41.50 408.5h21.20M41.50 410.5h21.20M41.50 417.5h21.20M41.50 419.5h21.20M41.50 569.5h21.20M41.50 570.5h21.20M41.50 571.5h21.20M62.65 412.5h21.20M62.65 417.5h21.20M62.65 423.5h21.20M62.65 426.5h21.20M62.65 427.5h21.20M62.65 440.5h21.20M62.65 441.5h21.20M62.65 457.5h21.20M62.65 462.5h21.20M62.65 463.5h21.20M62.65 465.5h21.20M62.65 467.5h21.20M62.65 468.5h21.20M62.65 494.5h21.20M62.65 495.5h21.20M62.65 497.5h21.20M62.65 501.5h21.20M62.65 504.5h21.20M62.65 509.5h21.20M62.65 515.5h21.20M62.65 516.5h21.20M62.65 518.5h21.20M62.65 521.5h21.20M62.65 524.5h21.20M62.65 578.5h21.20M62.65 579.5h21.20M83.80 541.5h21.20M83.80 543.5h21.20M83.80 551.5h21.20M126.10 349.5h21.20M147.25 311.5h21.20M147.25 343.5h21.20M147.25 344.5h21.20M147.25 345.5h21.20M168.40 551.5h21.20M168.40 552.5h21.20M168.40 553.5h21.20"/>
<path stroke="#0672bc" d="M41.50 409.5h21.20M41.50 411.5h21.20M41.50 412.5h21.20M41.50 413.5h21.20M41.50 414.5h21.20M41.50 416.5h21.20M41.50 418.5h21.20M41.50 420.5h21.20M41.50 421.5h21.20M41.50 422.5h21.20M41.50 424.5h21.20M41.50 425.5h21.20M41.50 489.5h21.20M41.50 531.5h21.20M62.65 413.5h21.20M62.65 414.5h21.20M62.65 415.5h21.20M62.65 416.5h21.20M62.65 418.5h21.20M62.65 421.5h21.20M62.65 428.5h21.20M62.65 452.5h21.20M62.65 466.5h21.20M62.65 505.5h21.20M62.65 507.5h21.20M62.65 510.5h21.20M62.65 514.5h21.20M62.65 517.5h21.20M62.65 525.5h21.20M62.65 576.5h21.20M62.65 577.5h21.20M62.65 582.5h21.20M62.65 584.5h21.20M83.80 544.5h21.20M83.80 547.5h21.20M83.80 549.5h21.20M83.80 552.5h21.20M83.80 592.5h21.20M104.95 316.5h21.20M104.95 317.5h21.20M104.95 395.5h21.20M104.95 397.5h21.20M126.10 539.5h21.20M147.25 310.5h21.20M147.25 312.5h21.20M147.25 314.5h21.20M168.40 554.5h21.20"/>
<path stroke="#067cc4" d="M41.50 415.5h21.20M41.50 532.5h21.20M41.50 560.5h21.20M41.50 565.5h21.20M62.65 419.5h21.20M62.65 420.5h21.20M62.65 422.5h21.20M62.65 424.5h21.20M62.65 438.5h21.20M62.65 439.5h21.20M62.65 449.5h21.20M62.65 450.5h21.20M62.65 451.5h21.20M62.65 469.5h21.20M62.65 508.5h21.20M62.65 511.5h21.20M62.65 512.5h21.20M62.65 513.5h21.20M62.65 519.5h21.20M62.65 520.5h21.20M62.65 522.5h21.20M62.65 523.5h21.20M62.65 526.5h21.20M62.65 527.5h21.20M62.65 528.5h21.20M62.65 530.5h21.20M62.65 531.5h21.20M62.65 575.5h21.20M62.65 580.5h21.20M83.80 548.5h21.20M83.80 550.5h21.20M83.80 572.5h21.20M83.80 573.5h21.20M83.80 596.5h21.20M104.95 315.5h21.20M104.95 318.5h21.20M104.95 374.5h21.20M104.95 375.5h21.20M104.95 380.5h21.20M104.95 382.5h21.20M104.95 396.5h21.20M104.95 398.5h21.20M126.10 384.5h21.20M126.10 385.5h21.20M126.10 536.5h21.20M126.10 537.5h21.20M126.10 538.5h21.20M147.25 313.5h21.20M168.40 345.5h21.20M168.40 346.5h21.20"/>
<path stroke="#064997" d="M41.50 423.5h21.20M62.65 454.5h21.20M62.65 455.5h21.20M62.65 459.5h21.20M62.65 472.5h21.20M62.65 474.5h21.20M62.65 483.5h21.20M62.65 485.5h21.20M62.65 486.5h21.20M62.65 488.5h21.20M62.65 491.5h21.20M62.65 499.5h21.20M147.25 307.5h21.20"/>
<path stroke="#55bfe2" d="M41.50 426.5h21.20M41.50 429.5h21.20M41.50 436.5h21.20M41.50 464.5h21.20M41.50 472.5h21.20M41.50 473.5h21.20M41.50 488.5h21.20M41.50 501.5h21.20M41.50 502.5h21.20M41.50 512.5h21.20M41.50 513.5h21.20M41.50 524.5h21.20M41.50 575.5h21.20M41.50 576.5h21.20M62.65 321.5h21.20M62.65 328.5h21.20M62.65 408.5h21.20M62.65 541.5h21.20M83.80 352.5h21.20M83.80 449.5h21.20M83.80 451.5h21.20M83.80 510.5h21.20M83.80 536.5h21.20M83.80 564.5h21.20M83.80 565.5h21.20M83.80 580.5h21.20M83.80 584.5h21.20M104.95 310.5h21.20M104.95 311.5h21.20M104.95 322.5h21.20M104.95 354.5h21.20M104.95 357.5h21.20M104.95 385.5h21.20M104.95 386.5h21.20M104.95 388.5h21.20M104.95 401.5h21.20M104.95 403.5h21.20M126.10 333.5h21.20M126.10 339.5h21.20M126.10 347.5h21.20M126.10 351.5h21.20M126.10 353.5h21.20M126.10 366.5h21.20M126.10 388.5h21.20M126.10 399.5h21.20M126.10 438.5h21.20M126.10 441.5h21.20M126.10 550.5h21.20M147.25 317.5h21.20M147.25 340.5h21.20M147.25 348.5h21.20M147.25 365.5h21.20M147.25 373.5h21.20M147.25 389.5h21.20M147.25 555.5h21.20M168.40 363.5h21.20M168.40 373.5h21.20M168.40 389.5h21.20M168.40 390.5h21.20M168.40 465.5h21.20M168.40 466.5h21.20M168.40 555.5h21.20"/>
<path stroke="#abd9eb" d="M41.50 427.5h21.20M41.50 428.5h21.20M41.50 458.5h21.20M41.50 459.5h21.20M41.50 462.5h21.20M41.50 486.5h21.20M41.50 494.5h21.20M41.50 558.5h21.20M41.50 572.5h21.20M41.50 583.5h21.20M41.50 584.5h21.20M41.50 587.5h21.20M41.50 589.5h21.20M41.50 592.5h21.20M41.50 593.5h21.20M41.50 594.5h21.20M41.50 595.5h21.20M62.65 322.5h21.20M62.65 567.5h21.20M62.65 588.5h21.20M83.80 358.5h21.20M83.80 441.5h21.20M83.80 483.5h21.20M83.80 485.5h21.20M83.80 495.5h21.20M83.80 496.5h21.20M83.80 498.5h21.20M83.80 503.5h21.20M83.80 505.5h21.20M83.80 535.5h21.20M83.80 560.5h21.20M104.95 321.5h21.20M104.95 337.5h21.20M104.95 345.5h21.20M104.95 347.5h21.20M104.95 350.5h21.20M126.10 324.5h21.20M126.10 328.5h21.20M126.10 330.5h21.20M126.10 331.5h21.20M126.10 368.5h21.20M126.10 376.5h21.20M126.10 395.5h21.20M126.10 396.5h21.20M126.10 397.5h21.20M126.10 401.5h21.20M126.10 403.5h21.20M126.10 439.5h21.20M126.10 440.5h21.20M126.10 449.5h21.20M126.10 549.5h21.20M126.10 572.5h21.20M126.10 573.5h21.20M126.10 581.5h21.20M147.25 364.5h21.20M147.25 380.5h21.20M147.25 386.5h21.20M147.25 387.5h21.20M147.25 397.5h21.20M147.25 399.5h21.20M147.25 454.5h21.20M168.40 334.5h21.20M168.40 336.5h21.20M168.40 337.5h21.20M168.40 338.5h21.20M168.40 396.5h21.20M168.40 401.5h21.20M168.40 536.5h21.20"/>
<path stroke="#0689ca" d="M41.50 431.5h21.20M41.50 432.5h21.20M41.50 530.5h21.20M41.50 533.5h21.20M41.50 534.5h21.20M41.50 561.5h21.20M41.50 562.5h21.20M41.50 564.5h21.20M41.50 566.5h21.20M62.65 406.5h21.20M62.65 425.5h21.20M62.65 529.5h21.20M62.65 532.5h21.20M62.65 533.5h21.20M62.65 559.5h21.20M62.65 564.5h21.20M62.65 592.5h21.20M83.80 593.5h21.20M104.95 381.5h21.20M126.10 535.5h21.20M147.25 540.5h21.20"/>
<path stroke="#12aada" d="M41.50 437.5h21.20M41.50 463.5h21.20M41.50 475.5h21.20M41.50 476.5h21.20M41.50 478.5h21.20M41.50 482.5h21.20M41.50 491.5h21.20M41.50 493.5h21.20M41.50 503.5h21.20M41.50 506.5h21.20M41.50 508.5h21.20M41.50 509.5h21.20M41.50 510.5h21.20M41.50 516.5h21.20M41.50 518.5h21.20M41.50 567.5h21.20M62.65 307.5h21.20M62.65 326.5h21.20M62.65 327.5h21.20M62.65 405.5h21.20M62.65 542.5h21.20M62.65 543.5h21.20M62.65 560.5h21.20M62.65 591.5h21.20M83.80 336.5h21.20M83.80 454.5h21.20M83.80 462.5h21.20M83.80 537.5h21.20M83.80 566.5h21.20M83.80 567.5h21.20M83.80 576.5h21.20M83.80 578.5h21.20M83.80 583.5h21.20M83.80 585.5h21.20M104.95 367.5h21.20M104.95 378.5h21.20M104.95 379.5h21.20M104.95 392.5h21.20M104.95 400.5h21.20M104.95 436.5h21.20M126.10 329.5h21.20M126.10 348.5h21.20M126.10 350.5h21.20M126.10 354.5h21.20M147.25 321.5h21.20M147.25 329.5h21.20M147.25 331.5h21.20M147.25 332.5h21.20M147.25 350.5h21.20M147.25 357.5h21.20M147.25 374.5h21.20M147.25 375.5h21.20M147.25 384.5h21.20M147.25 396.5h21.20M147.25 402.5h21.20M147.25 426.5h21.20M147.25 539.5h21.20M168.40 315.5h21.20M168.40 361.5h21.20M168.40 370.5h21.20M168.40 374.5h21.20M168.40 375.5h21.20M168.40 379.5h21.20M168.40 388.5h21.20M168.40 399.5h21.20M168.40 400.5h21.20"/>
<path stroke="#34b4de" d="M41.50 438.5h21.20M41.50 480.5h21.20M41.50 499.5h21.20M41.50 511.5h21.20M41.50 525.5h21.20M41.50 577.5h21.20M62.65 308.5h21.20M62.65 404.5h21.20M62.65 409.5h21.20M62.65 571.5h21.20M62.65 590.5h21.20M83.80 353.5h21.20M83.80 455.5h21.20M83.80 467.5h21.20M83.80 468.5h21.20M83.80 504.5h21.20M83.80 509.5h21.20M83.80 538.5h21.20M83.80 563.5h21.20M83.80 575.5h21.20M83.80 579.5h21.20M104.95 353.5h21.20M104.95 363.5h21.20M104.95 390.5h21.20M104.95 391.5h21.20M104.95 435.5h21.20M126.10 352.5h21.20M126.10 356.5h21.20M126.10 357.5h21.20M126.10 437.5h21.20M147.25 322.5h21.20M147.25 333.5h21.20M147.25 341.5h21.20M147.25 347.5h21.20M147.25 356.5h21.20M147.25 366.5h21.20M147.25 367.5h21.20M147.25 372.5h21.20M147.25 376.5h21.20M147.25 382.5h21.20M147.25 388.5h21.20M147.25 390.5h21.20M147.25 391.5h21.20M147.25 392.5h21.20M147.25 401.5h21.20M168.40 313.5h21.20M168.40 316.5h21.20M168.40 317.5h21.20M168.40 318.5h21.20M168.40 319.5h21.20M168.40 320.5h21.20M168.40 322.5h21.20M168.40 327.5h21.20M168.40 343.5h21.20M168.40 347.5h21.20M168.40 348.5h21.20M168.40 360.5h21.20M168.40 362.5h21.20M168.40 365.5h21.20M168.40 366.5h21.20M168.40 367.5h21.20M168.40 378.5h21.20M168.40 386.5h21.20M168.40 387.5h21.20M168.40 403.5h21.20"/>
<path stroke="#f2e0da" d="M41.50 439.5h21.20M41.50 444.5h21.20M41.50 449.5h21.20M41.50 451.5h21.20M41.50 457.5h21.20M62.65 569.5h21.20M83.80 342.5h21.20M83.80 346.5h21.20M83.80 348.5h21.20M83.80 357.5h21.20M83.80 389.5h21.20M83.80 394.5h21.20M83.80 396.5h21.20M83.80 399.5h21.20M83.80 400.5h21.20M83.80 401.5h21.20M83.80 442.5h21.20M83.80 446.5h21.20M83.80 489.5h21.20M83.80 490.5h21.20M83.80 491.5h21.20M83.80 492.5h21.20M83.80 494.5h21.20M83.80 517.5h21.20M83.80 521.5h21.20M83.80 531.5h21.20M83.80 569.5h21.20M104.95 313.5h21.20M104.95 314.5h21.20M104.95 414.5h21.20M104.95 551.5h21.20M126.10 342.5h21.20M126.10 344.5h21.20M126.10 359.5h21.20M126.10 360.5h21.20M126.10 443.5h21.20M126.10 446.5h21.20M126.10 470.5h21.20M126.10 494.5h21.20M126.10 497.5h21.20M126.10 513.5h21.20M126.10 552.5h21.20M126.10 569.5h21.20M126.10 592.5h21.20M126.10 593.5h21.20M147.25 434.5h21.20M147.25 442.5h21.20M147.25 444.5h21.20M147.25 445.5h21.20M147.25 448.5h21.20M147.25 457.5h21.20M147.25 491.5h21.20M147.25 541.5h21.20M147.25 543.5h21.20M147.25 551.5h21.20M147.25 552.5h21.20M147.25 581.5h21.20M147.25 583.5h21.20M168.40 309.5h21.20M168.40 323.5h21.20M168.40 325.5h21.20M168.40 333.5h21.20M168.40 422.5h21.20M168.40 423.5h21.20M168.40 428.5h21.20M168.40 497.5h21.20M168.40 516.5h21.20M168.40 537.5h21.20"/>
<path stroke="#fddacc" d="M41.50 443.5h21.20M41.50 446.5h21.20M41.50 447.5h21.20M41.50 452.5h21.20M41.50 454.5h21.20M41.50 455.5h21.20M41.50 469.5h21.20M41.50 546.5h21.20M62.65 553.5h21.20M62.65 568.5h21.20M83.80 398.5h21.20M83.80 403.5h21.20M83.80 410.5h21.20M83.80 447.5h21.20M83.80 477.5h21.20M83.80 519.5h21.20M83.80 522.5h21.20M83.80 525.5h21.20M104.95 312.5h21.20M104.95 326.5h21.20M104.95 330.5h21.20M104.95 340.5h21.20M104.95 341.5h21.20M104.95 550.5h21.20M104.95 553.5h21.20M126.10 312.5h21.20M126.10 315.5h21.20M126.10 316.5h21.20M126.10 341.5h21.20M126.10 380.5h21.20M126.10 389.5h21.20M126.10 404.5h21.20M126.10 406.5h21.20M126.10 442.5h21.20M126.10 444.5h21.20M126.10 448.5h21.20M126.10 472.5h21.20M126.10 473.5h21.20M126.10 477.5h21.20M126.10 495.5h21.20M126.10 498.5h21.20M126.10 499.5h21.20M126.10 512.5h21.20M126.10 533.5h21.20M126.10 577.5h21.20M126.10 590.5h21.20M126.10 591.5h21.20M126.10 594.5h21.20M147.25 328.5h21.20M147.25 336.5h21.20M147.25 440.5h21.20M147.25 441.5h21.20M147.25 452.5h21.20M147.25 460.5h21.20M147.25 490.5h21.20M147.25 492.5h21.20M147.25 542.5h21.20M147.25 547.5h21.20M147.25 564.5h21.20M147.25 582.5h21.20M168.40 307.5h21.20M168.40 331.5h21.20M168.40 332.5h21.20M168.40 424.5h21.20M168.40 430.5h21.20M168.40 431.5h21.20"/>
<path stroke="#77c9e6" d="M41.50 465.5h21.20M41.50 470.5h21.20M41.50 474.5h21.20M41.50 485.5h21.20M41.50 487.5h21.20M41.50 496.5h21.20M41.50 500.5h21.20M41.50 517.5h21.20M41.50 579.5h21.20M41.50 586.5h21.20M62.65 320.5h21.20M62.65 436.5h21.20M62.65 544.5h21.20M62.65 566.5h21.20M83.80 340.5h21.20M83.80 341.5h21.20M83.80 360.5h21.20M83.80 450.5h21.20M83.80 452.5h21.20M83.80 456.5h21.20M83.80 463.5h21.20M83.80 464.5h21.20M83.80 465.5h21.20M83.80 539.5h21.20M83.80 540.5h21.20M83.80 554.5h21.20M104.95 338.5h21.20M104.95 351.5h21.20M104.95 356.5h21.20M104.95 383.5h21.20M104.95 384.5h21.20M104.95 402.5h21.20M126.10 334.5h21.20M126.10 340.5h21.20M126.10 355.5h21.20M126.10 358.5h21.20M126.10 369.5h21.20M126.10 398.5h21.20M126.10 400.5h21.20M147.25 316.5h21.20M147.25 318.5h21.20M147.25 368.5h21.20M147.25 381.5h21.20M147.25 383.5h21.20M147.25 385.5h21.20M147.25 393.5h21.20M147.25 427.5h21.20M168.40 314.5h21.20M168.40 326.5h21.20M168.40 335.5h21.20M168.40 344.5h21.20M168.40 351.5h21.20M168.40 352.5h21.20M168.40 353.5h21.20M168.40 354.5h21.20M168.40 355.5h21.20M168.40 356.5h21.20M168.40 357.5h21.20M168.40 368.5h21.20M168.40 369.5h21.20M168.40 371.5h21.20M168.40 391.5h21.20M168.40 392.5h21.20M168.40 398.5h21.20M168.40 402.5h21.20"/>
<path stroke="#94d2e9" d="M41.50 471.5h21.20M41.50 479.5h21.20M41.50 483.5h21.20M41.50 484.5h21.20M41.50 495.5h21.20M41.50 498.5h21.20M41.50 557.5h21.20M41.50 578.5h21.20M41.50 582.5h21.20M41.50 585.5h21.20M62.65 319.5h21.20M62.65 589.5h21.20M83.80 333.5h21.20M83.80 334.5h21.20M83.80 339.5h21.20M83.80 351.5h21.20M83.80 359.5h21.20M83.80 453.5h21.20M83.80 458.5h21.20M83.80 469.5h21.20M83.80 484.5h21.20M83.80 499.5h21.20M83.80 500.5h21.20M83.80 501.5h21.20M83.80 507.5h21.20M83.80 508.5h21.20M83.80 514.5h21.20M83.80 515.5h21.20M83.80 526.5h21.20M83.80 561.5h21.20M83.80 562.5h21.20M104.95 331.5h21.20M104.95 332.5h21.20M104.95 335.5h21.20M104.95 349.5h21.20M104.95 352.5h21.20M104.95 355.5h21.20M104.95 387.5h21.20M126.10 335.5h21.20M126.10 336.5h21.20M126.10 337.5h21.20M126.10 338.5h21.20M126.10 345.5h21.20M126.10 364.5h21.20M126.10 365.5h21.20M126.10 367.5h21.20M126.10 370.5h21.20M126.10 375.5h21.20M126.10 386.5h21.20M126.10 387.5h21.20M126.10 392.5h21.20M126.10 393.5h21.20M126.10 402.5h21.20M126.10 436.5h21.20M126.10 596.5h21.20M126.10 597.5h21.20M147.25 339.5h21.20M147.25 354.5h21.20M147.25 369.5h21.20M147.25 370.5h21.20M147.25 379.5h21.20M147.25 556.5h21.20M168.40 339.5h21.20M168.40 340.5h21.20M168.40 341.5h21.20M168.40 342.5h21.20M168.40 358.5h21.20M168.40 364.5h21.20M168.40 372.5h21.20M168.40 380.5h21.20M168.40 381.5h21.20M168.40 394.5h21.20M168.40 556.5h21.20"/>
<path stroke="#0696d0" d="M41.50 477.5h21.20M41.50 505.5h21.20M41.50 515.5h21.20M41.50 521.5h21.20M41.50 522.5h21.20M41.50 527.5h21.20M41.50 559.5h21.20M62.65 411.5h21.20M62.65 437.5h21.20M62.65 540.5h21.20M62.65 558.5h21.20M62.65 563.5h21.20M62.65 581.5h21.20M62.65 585.5h21.20M62.65 587.5h21.20M62.65 595.5h21.20M62.65 597.5h21.20M83.80 329.5h21.20M83.80 332.5h21.20M83.80 574.5h21.20M83.80 587.5h21.20M83.80 589.5h21.20M83.80 590.5h21.20M83.80 594.5h21.20M83.80 597.5h21.20M104.95 359.5h21.20M104.95 361.5h21.20M104.95 362.5h21.20M104.95 370.5h21.20M104.95 371.5h21.20M104.95 376.5h21.20M104.95 377.5h21.20M104.95 389.5h21.20M104.95 399.5h21.20M147.25 330.5h21.20M147.25 351.5h21.20M168.40 312.5h21.20M168.40 377.5h21.20"/>
<path stroke="#073e87" d="M62.65 431.5h21.20M62.65 434.5h21.20M62.65 443.5h21.20M62.65 447.5h21.20M62.65 487.5h21.20M62.65 492.5h21.20M83.80 545.5h21.20M83.80 546.5h21.20M83.80 556.5h21.20M83.80 557.5h21.20M104.95 323.5h21.20M104.95 324.5h21.20"/>
<path stroke="#073378" d="M62.65 442.5h21.20M62.65 444.5h21.20M62.65 446.5h21.20M62.65 448.5h21.20M104.95 325.5h21.20"/>
<path stroke="#082868" d="M62.65 445.5h21.20"/>
<path stroke="#a40011" d="M104.95 441.5h21.20"/>
</g>
<g stroke="#1a1a1a" stroke-width="0.85" fill="none" stroke-linejoin="miter">
<path d="M52.1 301.4V292.4H73.2V301.4"/>
<path d="M157.8 301.4V295.3H178.9V301.4"/>
<path d="M136.6 301.4V293.6H168.4V295.3"/>
<path d="M115.5 301.4V293.0H152.5V293.6"/>
<path d="M94.4 301.4V286.6H134.1V293.0"/>
<path d="M62.6 292.4V272.2H114.3V286.6"/>
<path d="M38 338.2H12V501.8H35"/>
<path d="M41 316H38V360H41"/>
<path d="M40.2 309V330"/>
<path d="M39.6 330V388"/>
<path d="M40.7 388V446"/>
<path d="M39.2 446.8H35V557.5H38"/>
<path d="M39.2 440V503"/>
<path d="M40.6 440V598"/>
<path d="M41 542.5H38V572.5H41"/>
<path d="M39.6 560V590"/>
</g>
<defs><linearGradient id="panelCgrad" x1="0" y1="1" x2="0" y2="0">
<stop offset="0.000" stop-color="#082868"/>
<stop offset="0.100" stop-color="#0654a6"/>
<stop offset="0.200" stop-color="#067cc4"/>
<stop offset="0.250" stop-color="#0696d0"/>
<stop offset="0.300" stop-color="#12aada"/>
<stop offset="0.388" stop-color="#88cee8"/>
<stop offset="0.463" stop-color="#cee4ee"/>
<stop offset="0.500" stop-color="#e8e6e8"/>
<stop offset="0.550" stop-color="#fddacc"/>
<stop offset="0.625" stop-color="#ffac8e"/>
<stop offset="0.700" stop-color="#ff8064"/>
<stop offset="0.775" stop-color="#ff523e"/>
<stop offset="0.825" stop-color="#fa2422"/>
<stop offset="0.875" stop-color="#f00612"/>
<stop offset="0.950" stop-color="#cd0010"/>
<stop offset="1.000" stop-color="#7a0012"/>
</linearGradient></defs>
<rect x="200.30" y="305.90" width="8.9" height="123.60" fill="url(#panelCgrad)"/>
<text class="a" font-size="6.6" x="212.5" y="311.7">2</text>
<text class="a" font-size="6.6" x="212.5" y="340.9">1</text>
<text class="a" font-size="6.6" x="212.5" y="370.1">0</text>
<text class="a" font-size="6.6" x="212.5" y="399.3">-1</text>
<text class="a" font-size="6.6" x="212.5" y="428.5">-2</text>
<text class="a b" font-size="6.8" x="220.4" y="310.8">class</text>
<rect x="220.40" y="312.70" width="8.8" height="9.13" fill="#f8003c" stroke="#8c8c8c" stroke-width="0.6"/>
<text class="a" font-size="6.9" x="231.8" y="319.8">Con</text>
<rect x="220.40" y="321.83" width="8.8" height="9.13" fill="#0db14b" stroke="#8c8c8c" stroke-width="0.6"/>
<text class="a" font-size="6.9" x="231.8" y="328.9">H-AAPP</text>
<rect x="220.40" y="330.96" width="8.8" height="9.13" fill="#3c55d8" stroke="#8c8c8c" stroke-width="0.6"/>
<text class="a" font-size="6.9" x="231.8" y="338.0">H-NAAB</text>
<rect x="220.40" y="340.09" width="8.8" height="9.13" fill="#00d2f0" stroke="#8c8c8c" stroke-width="0.6"/>
<text class="a" font-size="6.9" x="231.8" y="347.2">L-AAPP</text>
<rect x="220.40" y="349.22" width="8.8" height="9.13" fill="#ff00e6" stroke="#8c8c8c" stroke-width="0.6"/>
<text class="a" font-size="6.9" x="231.8" y="356.3">L-NAAB</text>
<rect x="220.40" y="358.35" width="8.8" height="9.13" fill="#ffe600" stroke="#8c8c8c" stroke-width="0.6"/>
<text class="a" font-size="6.9" x="231.8" y="365.4">M</text>
<rect x="220.40" y="367.48" width="8.8" height="9.13" fill="#b400b4" stroke="#8c8c8c" stroke-width="0.6"/>
<text class="a" font-size="6.9" x="231.8" y="374.5">ND</text>
<text class="a" font-size="9.05" stroke="#000" stroke-width="0.2" transform="translate(49.3 599.5) rotate(90)">Con</text>
<text class="a" font-size="9.05" stroke="#000" stroke-width="0.2" transform="translate(70.4 599.5) rotate(90)">ND</text>
<text class="a" font-size="9.05" stroke="#000" stroke-width="0.2" transform="translate(91.6 599.5) rotate(90)">H-AAPP</text>
<text class="a" font-size="9.05" stroke="#000" stroke-width="0.2" transform="translate(112.7 599.5) rotate(90)">L-NAAB</text>
<text class="a" font-size="9.05" stroke="#000" stroke-width="0.2" transform="translate(133.9 599.5) rotate(90)">M</text>
<text class="a" font-size="9.05" stroke="#000" stroke-width="0.2" transform="translate(155.0 599.5) rotate(90)">H-NAAB</text>
<text class="a" font-size="9.05" stroke="#000" stroke-width="0.2" transform="translate(176.2 599.5) rotate(90)">L-AAPP</text>
</g>
<g id="panelD">
<text class="s" x="363.6" y="288.6" font-size="17.5">D</text>
<rect x="411.90" y="305.80" width="20.39" height="4.30" fill="#ff00e6"/>
<rect x="432.24" y="305.80" width="20.39" height="4.30" fill="#ffe600"/>
<rect x="452.57" y="305.80" width="20.39" height="4.30" fill="#3c55d8"/>
<rect x="472.91" y="305.80" width="20.39" height="4.30" fill="#00d2f0"/>
<rect x="493.24" y="305.80" width="20.39" height="4.30" fill="#0db14b"/>
<rect x="513.58" y="305.80" width="20.39" height="4.30" fill="#f8003c"/>
<rect x="533.91" y="305.80" width="20.39" height="4.30" fill="#b400b4"/>
<g fill="none" stroke-width="1.06">
<path stroke="#e8e6e8" d="M411.90 312.5h20.39M411.90 313.5h20.39M411.90 355.5h20.39M411.90 434.5h20.39M411.90 511.5h20.39M411.90 513.5h20.39M411.90 590.5h20.39M411.90 591.5h20.39M432.24 335.5h20.39M432.24 421.5h20.39M432.24 424.5h20.39M432.24 430.5h20.39M432.24 459.5h20.39M432.24 473.5h20.39M432.24 479.5h20.39M432.24 481.5h20.39M432.24 486.5h20.39M432.24 487.5h20.39M432.24 506.5h20.39M432.24 576.5h20.39M432.24 585.5h20.39M452.57 382.5h20.39M452.57 454.5h20.39M452.57 583.5h20.39M452.57 590.5h20.39M472.91 347.5h20.39M472.91 358.5h20.39M472.91 464.5h20.39M493.24 313.5h20.39M493.24 317.5h20.39M493.24 329.5h20.39M493.24 331.5h20.39M493.24 340.5h20.39M493.24 341.5h20.39M493.24 344.5h20.39M493.24 345.5h20.39M493.24 347.5h20.39M493.24 513.5h20.39M493.24 580.5h20.39M513.58 376.5h20.39M513.58 377.5h20.39M513.58 381.5h20.39M513.58 436.5h20.39M513.58 449.5h20.39M513.58 484.5h20.39M533.91 351.5h20.39M533.91 373.5h20.39"/>
<path stroke="#12aada" d="M411.90 314.5h20.39M411.90 327.5h20.39M411.90 328.5h20.39M411.90 334.5h20.39M411.90 345.5h20.39M411.90 381.5h20.39M411.90 382.5h20.39M411.90 410.5h20.39M411.90 411.5h20.39M411.90 419.5h20.39M411.90 420.5h20.39M432.24 369.5h20.39M432.24 370.5h20.39M452.57 312.5h20.39M452.57 313.5h20.39M452.57 316.5h20.39M452.57 319.5h20.39M452.57 323.5h20.39M452.57 324.5h20.39M452.57 332.5h20.39M452.57 333.5h20.39M452.57 347.5h20.39M452.57 407.5h20.39M452.57 415.5h20.39M452.57 418.5h20.39M472.91 323.5h20.39M472.91 373.5h20.39M472.91 380.5h20.39M472.91 386.5h20.39M472.91 390.5h20.39M472.91 391.5h20.39M472.91 415.5h20.39M472.91 431.5h20.39M472.91 438.5h20.39M472.91 439.5h20.39M493.24 363.5h20.39M493.24 364.5h20.39M493.24 366.5h20.39M493.24 455.5h20.39M493.24 462.5h20.39M493.24 465.5h20.39M493.24 473.5h20.39M493.24 494.5h20.39M513.58 481.5h20.39M513.58 483.5h20.39M513.58 503.5h20.39M513.58 505.5h20.39M513.58 506.5h20.39M513.58 519.5h20.39M513.58 520.5h20.39M513.58 524.5h20.39M513.58 529.5h20.39M513.58 533.5h20.39M513.58 548.5h20.39M513.58 552.5h20.39M513.58 553.5h20.39M513.58 555.5h20.39M513.58 557.5h20.39M513.58 559.5h20.39M513.58 563.5h20.39M513.58 564.5h20.39M513.58 565.5h20.39M513.58 571.5h20.39M513.58 580.5h20.39M513.58 581.5h20.39M513.58 588.5h20.39M513.58 590.5h20.39M513.58 592.5h20.39M533.91 371.5h20.39M533.91 446.5h20.39M533.91 454.5h20.39M533.91 488.5h20.39M533.91 498.5h20.39M533.91 499.5h20.39M533.91 503.5h20.39"/>
<path stroke="#0ca0d5" d="M411.90 315.5h20.39M411.90 320.5h20.39M411.90 326.5h20.39M411.90 329.5h20.39M411.90 333.5h20.39M411.90 335.5h20.39M411.90 339.5h20.39M411.90 341.5h20.39M411.90 374.5h20.39M411.90 377.5h20.39M411.90 405.5h20.39M411.90 409.5h20.39M411.90 412.5h20.39M411.90 413.5h20.39M411.90 416.5h20.39M411.90 418.5h20.39M411.90 421.5h20.39M411.90 431.5h20.39M432.24 356.5h20.39M452.57 318.5h20.39M452.57 342.5h20.39M452.57 345.5h20.39M452.57 346.5h20.39M452.57 368.5h20.39M452.57 369.5h20.39M452.57 370.5h20.39M452.57 401.5h20.39M452.57 416.5h20.39M452.57 420.5h20.39M452.57 421.5h20.39M452.57 422.5h20.39M452.57 423.5h20.39M452.57 430.5h20.39M452.57 435.5h20.39M472.91 330.5h20.39M472.91 332.5h20.39M472.91 382.5h20.39M472.91 385.5h20.39M472.91 389.5h20.39M472.91 432.5h20.39M472.91 434.5h20.39M472.91 435.5h20.39M472.91 437.5h20.39M493.24 354.5h20.39M493.24 358.5h20.39M493.24 360.5h20.39M493.24 456.5h20.39M493.24 469.5h20.39M493.24 484.5h20.39M493.24 489.5h20.39M493.24 496.5h20.39M493.24 507.5h20.39M513.58 502.5h20.39M513.58 512.5h20.39M513.58 515.5h20.39M513.58 534.5h20.39M513.58 538.5h20.39M513.58 561.5h20.39M513.58 570.5h20.39M513.58 573.5h20.39M513.58 576.5h20.39M513.58 577.5h20.39M513.58 593.5h20.39M533.91 453.5h20.39M533.91 489.5h20.39M533.91 491.5h20.39M533.91 492.5h20.39M533.91 494.5h20.39M533.91 495.5h20.39M533.91 505.5h20.39M533.91 506.5h20.39M533.91 514.5h20.39"/>
<path stroke="#0689ca" d="M411.90 316.5h20.39M411.90 371.5h20.39M411.90 379.5h20.39M411.90 383.5h20.39M411.90 404.5h20.39M411.90 407.5h20.39M411.90 424.5h20.39M411.90 425.5h20.39M411.90 428.5h20.39M411.90 430.5h20.39M432.24 353.5h20.39M452.57 366.5h20.39M493.24 359.5h20.39M493.24 361.5h20.39M493.24 486.5h20.39M493.24 487.5h20.39M493.24 491.5h20.39M493.24 492.5h20.39M493.24 497.5h20.39M513.58 514.5h20.39M513.58 522.5h20.39M513.58 530.5h20.39M513.58 542.5h20.39M533.91 481.5h20.39M533.91 497.5h20.39M533.91 507.5h20.39M533.91 508.5h20.39M533.91 513.5h20.39M533.91 517.5h20.39M533.91 518.5h20.39M533.91 527.5h20.39M533.91 578.5h20.39M533.91 580.5h20.39M533.91 581.5h20.39M533.91 587.5h20.39"/>
<path stroke="#34b4de" d="M411.90 317.5h20.39M411.90 318.5h20.39M411.90 324.5h20.39M411.90 325.5h20.39M411.90 344.5h20.39M411.90 346.5h20.39M411.90 375.5h20.39M411.90 406.5h20.39M411.90 408.5h20.39M411.90 422.5h20.39M411.90 437.5h20.39M411.90 438.5h20.39M432.24 314.5h20.39M432.24 315.5h20.39M432.24 329.5h20.39M432.24 334.5h20.39M432.24 352.5h20.39M452.57 317.5h20.39M452.57 321.5h20.39M452.57 330.5h20.39M452.57 338.5h20.39M452.57 339.5h20.39M452.57 341.5h20.39M452.57 387.5h20.39M452.57 402.5h20.39M452.57 406.5h20.39M452.57 408.5h20.39M452.57 410.5h20.39M452.57 417.5h20.39M452.57 424.5h20.39M452.57 427.5h20.39M472.91 327.5h20.39M472.91 331.5h20.39M472.91 338.5h20.39M472.91 339.5h20.39M472.91 365.5h20.39M472.91 370.5h20.39M472.91 372.5h20.39M472.91 374.5h20.39M472.91 379.5h20.39M472.91 397.5h20.39M472.91 400.5h20.39M472.91 409.5h20.39M472.91 414.5h20.39M472.91 433.5h20.39M493.24 362.5h20.39M493.24 365.5h20.39M493.24 439.5h20.39M493.24 457.5h20.39M493.24 458.5h20.39M493.24 460.5h20.39M493.24 461.5h20.39M493.24 464.5h20.39M493.24 471.5h20.39M493.24 472.5h20.39M493.24 480.5h20.39M493.24 495.5h20.39M493.24 506.5h20.39M493.24 517.5h20.39M513.58 370.5h20.39M513.58 371.5h20.39M513.58 372.5h20.39M513.58 464.5h20.39M513.58 467.5h20.39M513.58 470.5h20.39M513.58 480.5h20.39M513.58 504.5h20.39M513.58 517.5h20.39M513.58 518.5h20.39M513.58 523.5h20.39M513.58 525.5h20.39M513.58 527.5h20.39M513.58 528.5h20.39M513.58 535.5h20.39M513.58 536.5h20.39M513.58 537.5h20.39M513.58 547.5h20.39M513.58 549.5h20.39M513.58 554.5h20.39M513.58 556.5h20.39M513.58 572.5h20.39M513.58 575.5h20.39M513.58 587.5h20.39M533.91 439.5h20.39M533.91 449.5h20.39"/>
<path stroke="#0696d0" d="M411.90 319.5h20.39M411.90 347.5h20.39M411.90 376.5h20.39M411.90 402.5h20.39M411.90 415.5h20.39M411.90 417.5h20.39M432.24 328.5h20.39M432.24 354.5h20.39M452.57 322.5h20.39M452.57 343.5h20.39M452.57 344.5h20.39M452.57 367.5h20.39M452.57 434.5h20.39M452.57 436.5h20.39M452.57 581.5h20.39M472.91 329.5h20.39M472.91 381.5h20.39M472.91 436.5h20.39M493.24 353.5h20.39M493.24 355.5h20.39M493.24 356.5h20.39M493.24 357.5h20.39M493.24 468.5h20.39M493.24 485.5h20.39M493.24 488.5h20.39M493.24 490.5h20.39M493.24 498.5h20.39M493.24 503.5h20.39M493.24 504.5h20.39M493.24 505.5h20.39M493.24 509.5h20.39M493.24 510.5h20.39M493.24 511.5h20.39M513.58 513.5h20.39M513.58 521.5h20.39M513.58 539.5h20.39M513.58 540.5h20.39M513.58 541.5h20.39M513.58 543.5h20.39M513.58 560.5h20.39M513.58 574.5h20.39M513.58 578.5h20.39M513.58 591.5h20.39M533.91 440.5h20.39M533.91 487.5h20.39M533.91 490.5h20.39M533.91 493.5h20.39M533.91 500.5h20.39M533.91 501.5h20.39M533.91 502.5h20.39M533.91 504.5h20.39M533.91 515.5h20.39M533.91 525.5h20.39M533.91 574.5h20.39"/>
<path stroke="#94d2e9" d="M411.90 321.5h20.39M411.90 360.5h20.39M411.90 362.5h20.39M411.90 363.5h20.39M411.90 364.5h20.39M411.90 587.5h20.39M411.90 588.5h20.39M432.24 316.5h20.39M432.24 317.5h20.39M432.24 320.5h20.39M432.24 322.5h20.39M432.24 341.5h20.39M432.24 344.5h20.39M432.24 346.5h20.39M432.24 347.5h20.39M432.24 349.5h20.39M432.24 357.5h20.39M432.24 365.5h20.39M432.24 386.5h20.39M432.24 388.5h20.39M432.24 396.5h20.39M432.24 400.5h20.39M432.24 409.5h20.39M432.24 413.5h20.39M432.24 415.5h20.39M432.24 416.5h20.39M432.24 417.5h20.39M432.24 432.5h20.39M432.24 443.5h20.39M432.24 453.5h20.39M432.24 454.5h20.39M432.24 495.5h20.39M432.24 496.5h20.39M452.57 320.5h20.39M452.57 326.5h20.39M452.57 327.5h20.39M452.57 328.5h20.39M452.57 348.5h20.39M452.57 353.5h20.39M452.57 356.5h20.39M452.57 360.5h20.39M452.57 364.5h20.39M452.57 365.5h20.39M452.57 388.5h20.39M452.57 414.5h20.39M452.57 432.5h20.39M452.57 433.5h20.39M452.57 443.5h20.39M472.91 315.5h20.39M472.91 320.5h20.39M472.91 324.5h20.39M472.91 326.5h20.39M472.91 341.5h20.39M472.91 343.5h20.39M472.91 348.5h20.39M472.91 366.5h20.39M472.91 378.5h20.39M472.91 383.5h20.39M472.91 395.5h20.39M472.91 422.5h20.39M472.91 423.5h20.39M472.91 424.5h20.39M472.91 425.5h20.39M472.91 429.5h20.39M472.91 441.5h20.39M472.91 537.5h20.39M493.24 336.5h20.39M493.24 368.5h20.39M493.24 369.5h20.39M493.24 454.5h20.39M493.24 475.5h20.39M493.24 476.5h20.39M493.24 477.5h20.39M493.24 478.5h20.39M493.24 481.5h20.39M493.24 521.5h20.39M493.24 523.5h20.39M493.24 524.5h20.39M493.24 537.5h20.39M493.24 538.5h20.39M493.24 542.5h20.39M493.24 543.5h20.39M493.24 558.5h20.39M513.58 457.5h20.39M513.58 458.5h20.39M513.58 465.5h20.39M513.58 466.5h20.39M513.58 468.5h20.39M513.58 471.5h20.39M513.58 472.5h20.39M513.58 474.5h20.39M513.58 475.5h20.39M513.58 479.5h20.39M513.58 482.5h20.39M513.58 499.5h20.39M513.58 501.5h20.39M513.58 532.5h20.39M513.58 546.5h20.39M513.58 550.5h20.39M533.91 365.5h20.39M533.91 445.5h20.39M533.91 451.5h20.39"/>
<path stroke="#55bfe2" d="M411.90 322.5h20.39M411.90 323.5h20.39M411.90 343.5h20.39M411.90 401.5h20.39M411.90 423.5h20.39M411.90 436.5h20.39M432.24 313.5h20.39M432.24 319.5h20.39M432.24 323.5h20.39M432.24 333.5h20.39M432.24 351.5h20.39M432.24 355.5h20.39M432.24 358.5h20.39M432.24 359.5h20.39M432.24 360.5h20.39M432.24 387.5h20.39M452.57 331.5h20.39M452.57 334.5h20.39M452.57 336.5h20.39M452.57 352.5h20.39M452.57 378.5h20.39M452.57 383.5h20.39M452.57 384.5h20.39M452.57 403.5h20.39M452.57 404.5h20.39M452.57 405.5h20.39M452.57 409.5h20.39M452.57 413.5h20.39M452.57 419.5h20.39M452.57 425.5h20.39M452.57 426.5h20.39M452.57 431.5h20.39M452.57 440.5h20.39M472.91 319.5h20.39M472.91 333.5h20.39M472.91 340.5h20.39M472.91 345.5h20.39M472.91 346.5h20.39M472.91 367.5h20.39M472.91 384.5h20.39M472.91 387.5h20.39M472.91 388.5h20.39M472.91 392.5h20.39M472.91 396.5h20.39M472.91 408.5h20.39M472.91 411.5h20.39M472.91 412.5h20.39M472.91 419.5h20.39M472.91 426.5h20.39M472.91 428.5h20.39M472.91 430.5h20.39M493.24 328.5h20.39M493.24 470.5h20.39M493.24 493.5h20.39M493.24 516.5h20.39M493.24 541.5h20.39M513.58 373.5h20.39M513.58 496.5h20.39M513.58 497.5h20.39M513.58 507.5h20.39M513.58 508.5h20.39M513.58 516.5h20.39M513.58 551.5h20.39M513.58 558.5h20.39M513.58 562.5h20.39M513.58 566.5h20.39M513.58 567.5h20.39M513.58 569.5h20.39M513.58 586.5h20.39M513.58 589.5h20.39M533.91 366.5h20.39M533.91 370.5h20.39M533.91 447.5h20.39M533.91 526.5h20.39M533.91 591.5h20.39"/>
<path stroke="#c2e0ed" d="M411.90 330.5h20.39M411.90 331.5h20.39M411.90 332.5h20.39M411.90 370.5h20.39M411.90 495.5h20.39M432.24 342.5h20.39M432.24 343.5h20.39M432.24 361.5h20.39M432.24 394.5h20.39M432.24 397.5h20.39M432.24 398.5h20.39M432.24 402.5h20.39M432.24 419.5h20.39M432.24 426.5h20.39M432.24 428.5h20.39M432.24 431.5h20.39M432.24 448.5h20.39M432.24 504.5h20.39M452.57 380.5h20.39M452.57 389.5h20.39M452.57 393.5h20.39M452.57 395.5h20.39M452.57 396.5h20.39M452.57 399.5h20.39M452.57 442.5h20.39M472.91 325.5h20.39M472.91 355.5h20.39M472.91 361.5h20.39M472.91 362.5h20.39M472.91 364.5h20.39M472.91 393.5h20.39M472.91 406.5h20.39M493.24 321.5h20.39M493.24 343.5h20.39M493.24 483.5h20.39M493.24 519.5h20.39M493.24 520.5h20.39M493.24 531.5h20.39M493.24 532.5h20.39M493.24 536.5h20.39M493.24 553.5h20.39M493.24 554.5h20.39M493.24 576.5h20.39M513.58 378.5h20.39M513.58 379.5h20.39M513.58 434.5h20.39M513.58 444.5h20.39M513.58 477.5h20.39M513.58 492.5h20.39M513.58 493.5h20.39M513.58 509.5h20.39M513.58 510.5h20.39M513.58 545.5h20.39M513.58 582.5h20.39M533.91 441.5h20.39"/>
<path stroke="#0668b5" d="M411.90 336.5h20.39M411.90 337.5h20.39M411.90 338.5h20.39M411.90 392.5h20.39M411.90 393.5h20.39M411.90 396.5h20.39M411.90 400.5h20.39M411.90 426.5h20.39M411.90 427.5h20.39M493.24 349.5h20.39M493.24 450.5h20.39M533.91 455.5h20.39M533.91 460.5h20.39M533.91 478.5h20.39M533.91 485.5h20.39M533.91 486.5h20.39M533.91 531.5h20.39M533.91 535.5h20.39M533.91 538.5h20.39M533.91 539.5h20.39M533.91 541.5h20.39M533.91 542.5h20.39M533.91 551.5h20.39M533.91 557.5h20.39M533.91 558.5h20.39M533.91 559.5h20.39M533.91 561.5h20.39M533.91 562.5h20.39M533.91 563.5h20.39M533.91 564.5h20.39M533.91 569.5h20.39M533.91 584.5h20.39M533.91 585.5h20.39M533.91 589.5h20.39"/>
<path stroke="#77c9e6" d="M411.90 340.5h20.39M411.90 342.5h20.39M411.90 359.5h20.39M411.90 361.5h20.39M432.24 324.5h20.39M432.24 325.5h20.39M432.24 327.5h20.39M432.24 330.5h20.39M432.24 331.5h20.39M432.24 340.5h20.39M432.24 350.5h20.39M432.24 363.5h20.39M432.24 401.5h20.39M432.24 410.5h20.39M432.24 411.5h20.39M432.24 412.5h20.39M432.24 444.5h20.39M432.24 445.5h20.39M432.24 497.5h20.39M432.24 498.5h20.39M452.57 325.5h20.39M452.57 335.5h20.39M452.57 340.5h20.39M452.57 351.5h20.39M452.57 354.5h20.39M452.57 357.5h20.39M452.57 362.5h20.39M452.57 363.5h20.39M452.57 397.5h20.39M452.57 400.5h20.39M452.57 411.5h20.39M452.57 412.5h20.39M452.57 428.5h20.39M452.57 429.5h20.39M452.57 450.5h20.39M472.91 314.5h20.39M472.91 334.5h20.39M472.91 335.5h20.39M472.91 336.5h20.39M472.91 337.5h20.39M472.91 342.5h20.39M472.91 344.5h20.39M472.91 368.5h20.39M472.91 369.5h20.39M472.91 375.5h20.39M472.91 399.5h20.39M472.91 401.5h20.39M472.91 407.5h20.39M472.91 410.5h20.39M472.91 413.5h20.39M472.91 416.5h20.39M472.91 417.5h20.39M472.91 418.5h20.39M472.91 427.5h20.39M472.91 440.5h20.39M472.91 538.5h20.39M472.91 587.5h20.39M493.24 325.5h20.39M493.24 327.5h20.39M493.24 367.5h20.39M493.24 440.5h20.39M493.24 453.5h20.39M493.24 459.5h20.39M493.24 463.5h20.39M493.24 466.5h20.39M493.24 467.5h20.39M493.24 474.5h20.39M493.24 479.5h20.39M493.24 482.5h20.39M493.24 515.5h20.39M493.24 522.5h20.39M493.24 525.5h20.39M493.24 526.5h20.39M493.24 527.5h20.39M493.24 540.5h20.39M493.24 556.5h20.39M513.58 462.5h20.39M513.58 463.5h20.39M513.58 469.5h20.39M513.58 473.5h20.39M513.58 476.5h20.39M513.58 494.5h20.39M513.58 498.5h20.39M513.58 500.5h20.39M513.58 526.5h20.39M513.58 568.5h20.39M533.91 448.5h20.39M533.91 452.5h20.39M533.91 592.5h20.39"/>
<path stroke="#febba3" d="M411.90 348.5h20.39M411.90 443.5h20.39M411.90 509.5h20.39M411.90 544.5h20.39M411.90 571.5h20.39M432.24 348.5h20.39M432.24 366.5h20.39M432.24 368.5h20.39M432.24 372.5h20.39M432.24 379.5h20.39M432.24 380.5h20.39M432.24 381.5h20.39M432.24 382.5h20.39M432.24 383.5h20.39M432.24 393.5h20.39M432.24 450.5h20.39M432.24 455.5h20.39M432.24 456.5h20.39M432.24 457.5h20.39M432.24 460.5h20.39M432.24 471.5h20.39M432.24 477.5h20.39M432.24 491.5h20.39M432.24 492.5h20.39M432.24 501.5h20.39M432.24 502.5h20.39M432.24 511.5h20.39M432.24 517.5h20.39M432.24 524.5h20.39M432.24 528.5h20.39M432.24 532.5h20.39M432.24 533.5h20.39M432.24 547.5h20.39M432.24 559.5h20.39M432.24 561.5h20.39M432.24 564.5h20.39M432.24 588.5h20.39M432.24 592.5h20.39M452.57 350.5h20.39M452.57 359.5h20.39M452.57 371.5h20.39M452.57 457.5h20.39M452.57 459.5h20.39M452.57 467.5h20.39M452.57 470.5h20.39M452.57 473.5h20.39M452.57 479.5h20.39M452.57 482.5h20.39M452.57 483.5h20.39M452.57 486.5h20.39M452.57 490.5h20.39M452.57 528.5h20.39M452.57 539.5h20.39M452.57 550.5h20.39M452.57 561.5h20.39M472.91 350.5h20.39M472.91 371.5h20.39M472.91 455.5h20.39M472.91 457.5h20.39M472.91 487.5h20.39M472.91 557.5h20.39M472.91 561.5h20.39M472.91 569.5h20.39M472.91 574.5h20.39M472.91 584.5h20.39M472.91 585.5h20.39M493.24 314.5h20.39M493.24 315.5h20.39M493.24 334.5h20.39M493.24 335.5h20.39M493.24 430.5h20.39M493.24 546.5h20.39M493.24 548.5h20.39M493.24 559.5h20.39M493.24 560.5h20.39M493.24 565.5h20.39M493.24 568.5h20.39M493.24 573.5h20.39M493.24 581.5h20.39M513.58 383.5h20.39M513.58 386.5h20.39M513.58 440.5h20.39M513.58 441.5h20.39M513.58 443.5h20.39M513.58 451.5h20.39M533.91 388.5h20.39M533.91 442.5h20.39"/>
<path stroke="#ff7157" d="M411.90 349.5h20.39M411.90 351.5h20.39M411.90 445.5h20.39M411.90 468.5h20.39M411.90 472.5h20.39M411.90 473.5h20.39M411.90 474.5h20.39M411.90 517.5h20.39M411.90 518.5h20.39M411.90 520.5h20.39M411.90 521.5h20.39M411.90 532.5h20.39M411.90 537.5h20.39M411.90 538.5h20.39M411.90 550.5h20.39M411.90 554.5h20.39M411.90 579.5h20.39M432.24 589.5h20.39M432.24 590.5h20.39M452.57 503.5h20.39M452.57 505.5h20.39M452.57 515.5h20.39M452.57 521.5h20.39M452.57 522.5h20.39M452.57 564.5h20.39M452.57 566.5h20.39M452.57 569.5h20.39M452.57 591.5h20.39M472.91 482.5h20.39M472.91 493.5h20.39M472.91 509.5h20.39M472.91 514.5h20.39M472.91 520.5h20.39M472.91 529.5h20.39M493.24 412.5h20.39M493.24 431.5h20.39M493.24 514.5h20.39M513.58 312.5h20.39M513.58 313.5h20.39M513.58 320.5h20.39M513.58 336.5h20.39M513.58 338.5h20.39M513.58 339.5h20.39M513.58 346.5h20.39M513.58 363.5h20.39M513.58 391.5h20.39M513.58 403.5h20.39M513.58 404.5h20.39M513.58 411.5h20.39M513.58 414.5h20.39M513.58 421.5h20.39M513.58 424.5h20.39M513.58 425.5h20.39M513.58 427.5h20.39M533.91 358.5h20.39M533.91 390.5h20.39M533.91 393.5h20.39M533.91 399.5h20.39"/>
<path stroke="#ff8064" d="M411.90 350.5h20.39M411.90 446.5h20.39M411.90 460.5h20.39M411.90 461.5h20.39M411.90 498.5h20.39M411.90 499.5h20.39M411.90 515.5h20.39M411.90 516.5h20.39M411.90 519.5h20.39M411.90 525.5h20.39M411.90 527.5h20.39M411.90 529.5h20.39M411.90 531.5h20.39M411.90 533.5h20.39M411.90 535.5h20.39M411.90 542.5h20.39M411.90 558.5h20.39M411.90 580.5h20.39M411.90 581.5h20.39M432.24 539.5h20.39M432.24 569.5h20.39M432.24 579.5h20.39M432.24 591.5h20.39M452.57 446.5h20.39M452.57 489.5h20.39M452.57 500.5h20.39M452.57 512.5h20.39M452.57 513.5h20.39M452.57 514.5h20.39M452.57 516.5h20.39M452.57 517.5h20.39M452.57 518.5h20.39M452.57 527.5h20.39M452.57 530.5h20.39M452.57 545.5h20.39M452.57 546.5h20.39M452.57 547.5h20.39M452.57 557.5h20.39M452.57 560.5h20.39M452.57 563.5h20.39M452.57 565.5h20.39M452.57 576.5h20.39M472.91 443.5h20.39M472.91 446.5h20.39M472.91 467.5h20.39M472.91 474.5h20.39M472.91 479.5h20.39M472.91 485.5h20.39M472.91 489.5h20.39M472.91 508.5h20.39M472.91 516.5h20.39M472.91 519.5h20.39M472.91 521.5h20.39M472.91 524.5h20.39M472.91 539.5h20.39M472.91 542.5h20.39M493.24 410.5h20.39M493.24 417.5h20.39M493.24 426.5h20.39M493.24 571.5h20.39M513.58 316.5h20.39M513.58 319.5h20.39M513.58 337.5h20.39M513.58 340.5h20.39M513.58 347.5h20.39M513.58 389.5h20.39M513.58 390.5h20.39M513.58 398.5h20.39M513.58 399.5h20.39M513.58 400.5h20.39M513.58 402.5h20.39M513.58 408.5h20.39M513.58 412.5h20.39M513.58 417.5h20.39M533.91 386.5h20.39M533.91 389.5h20.39M533.91 392.5h20.39M533.91 434.5h20.39"/>
<path stroke="#ffac8e" d="M411.90 352.5h20.39M411.90 357.5h20.39M411.90 365.5h20.39M411.90 442.5h20.39M411.90 504.5h20.39M411.90 510.5h20.39M411.90 548.5h20.39M411.90 563.5h20.39M411.90 565.5h20.39M411.90 566.5h20.39M411.90 568.5h20.39M411.90 569.5h20.39M411.90 572.5h20.39M411.90 575.5h20.39M411.90 577.5h20.39M411.90 583.5h20.39M432.24 371.5h20.39M432.24 384.5h20.39M432.24 404.5h20.39M432.24 436.5h20.39M432.24 438.5h20.39M432.24 441.5h20.39M432.24 462.5h20.39M432.24 467.5h20.39M432.24 472.5h20.39M432.24 493.5h20.39M432.24 494.5h20.39M432.24 508.5h20.39M432.24 512.5h20.39M432.24 513.5h20.39M432.24 527.5h20.39M432.24 537.5h20.39M432.24 563.5h20.39M432.24 567.5h20.39M432.24 573.5h20.39M432.24 574.5h20.39M452.57 349.5h20.39M452.57 372.5h20.39M452.57 375.5h20.39M452.57 377.5h20.39M452.57 444.5h20.39M452.57 456.5h20.39M452.57 458.5h20.39M452.57 461.5h20.39M452.57 469.5h20.39M452.57 474.5h20.39M452.57 475.5h20.39M452.57 477.5h20.39M452.57 478.5h20.39M452.57 485.5h20.39M452.57 488.5h20.39M452.57 496.5h20.39M452.57 498.5h20.39M452.57 509.5h20.39M452.57 533.5h20.39M452.57 535.5h20.39M452.57 536.5h20.39M452.57 537.5h20.39M452.57 541.5h20.39M452.57 542.5h20.39M452.57 552.5h20.39M452.57 555.5h20.39M452.57 562.5h20.39M452.57 568.5h20.39M452.57 577.5h20.39M452.57 578.5h20.39M452.57 579.5h20.39M452.57 580.5h20.39M472.91 313.5h20.39M472.91 349.5h20.39M472.91 453.5h20.39M472.91 462.5h20.39M472.91 466.5h20.39M472.91 473.5h20.39M472.91 476.5h20.39M472.91 478.5h20.39M472.91 533.5h20.39M472.91 535.5h20.39M472.91 536.5h20.39M472.91 540.5h20.39M472.91 544.5h20.39M472.91 547.5h20.39M472.91 548.5h20.39M472.91 551.5h20.39M472.91 552.5h20.39M472.91 558.5h20.39M472.91 562.5h20.39M472.91 563.5h20.39M472.91 564.5h20.39M472.91 579.5h20.39M472.91 580.5h20.39M472.91 590.5h20.39M493.24 381.5h20.39M493.24 420.5h20.39M493.24 421.5h20.39M493.24 423.5h20.39M493.24 424.5h20.39M493.24 551.5h20.39M493.24 564.5h20.39M493.24 569.5h20.39M493.24 570.5h20.39M493.24 579.5h20.39M513.58 352.5h20.39M513.58 374.5h20.39M513.58 387.5h20.39M513.58 394.5h20.39M513.58 431.5h20.39M513.58 432.5h20.39M513.58 439.5h20.39M513.58 442.5h20.39M533.91 368.5h20.39"/>
<path stroke="#ff9d80" d="M411.90 353.5h20.39M411.90 366.5h20.39M411.90 501.5h20.39M411.90 506.5h20.39M411.90 528.5h20.39M411.90 551.5h20.39M411.90 552.5h20.39M411.90 555.5h20.39M411.90 559.5h20.39M411.90 562.5h20.39M411.90 564.5h20.39M411.90 567.5h20.39M411.90 570.5h20.39M411.90 573.5h20.39M411.90 574.5h20.39M411.90 582.5h20.39M411.90 584.5h20.39M432.24 373.5h20.39M432.24 374.5h20.39M432.24 439.5h20.39M432.24 442.5h20.39M432.24 463.5h20.39M432.24 464.5h20.39M432.24 465.5h20.39M432.24 514.5h20.39M432.24 522.5h20.39M432.24 531.5h20.39M432.24 534.5h20.39M432.24 538.5h20.39M432.24 562.5h20.39M432.24 566.5h20.39M432.24 568.5h20.39M432.24 570.5h20.39M432.24 571.5h20.39M432.24 572.5h20.39M452.57 373.5h20.39M452.57 374.5h20.39M452.57 445.5h20.39M452.57 462.5h20.39M452.57 463.5h20.39M452.57 465.5h20.39M452.57 476.5h20.39M452.57 484.5h20.39M452.57 487.5h20.39M452.57 495.5h20.39M452.57 497.5h20.39M452.57 499.5h20.39M452.57 525.5h20.39M452.57 540.5h20.39M452.57 543.5h20.39M452.57 544.5h20.39M452.57 559.5h20.39M452.57 574.5h20.39M452.57 586.5h20.39M472.91 351.5h20.39M472.91 444.5h20.39M472.91 461.5h20.39M472.91 463.5h20.39M472.91 475.5h20.39M472.91 488.5h20.39M472.91 491.5h20.39M472.91 523.5h20.39M472.91 525.5h20.39M472.91 541.5h20.39M472.91 543.5h20.39M472.91 545.5h20.39M472.91 556.5h20.39M472.91 571.5h20.39M472.91 573.5h20.39M472.91 575.5h20.39M472.91 576.5h20.39M472.91 577.5h20.39M493.24 413.5h20.39M493.24 414.5h20.39M493.24 415.5h20.39M493.24 425.5h20.39M493.24 437.5h20.39M493.24 550.5h20.39M493.24 552.5h20.39M493.24 572.5h20.39M513.58 351.5h20.39M513.58 384.5h20.39M513.58 385.5h20.39M513.58 396.5h20.39M513.58 397.5h20.39M513.58 418.5h20.39M513.58 430.5h20.39M513.58 495.5h20.39M533.91 367.5h20.39M533.91 376.5h20.39M533.91 378.5h20.39M533.91 391.5h20.39"/>
<path stroke="#ff8f72" d="M411.90 354.5h20.39M411.90 444.5h20.39M411.90 497.5h20.39M411.90 500.5h20.39M411.90 503.5h20.39M411.90 507.5h20.39M411.90 508.5h20.39M411.90 530.5h20.39M411.90 541.5h20.39M411.90 543.5h20.39M411.90 547.5h20.39M411.90 549.5h20.39M411.90 553.5h20.39M411.90 556.5h20.39M411.90 557.5h20.39M411.90 576.5h20.39M411.90 578.5h20.39M411.90 585.5h20.39M411.90 586.5h20.39M432.24 440.5h20.39M432.24 509.5h20.39M432.24 523.5h20.39M432.24 535.5h20.39M432.24 536.5h20.39M432.24 565.5h20.39M432.24 575.5h20.39M432.24 578.5h20.39M432.24 580.5h20.39M432.24 581.5h20.39M452.57 455.5h20.39M452.57 471.5h20.39M452.57 472.5h20.39M452.57 501.5h20.39M452.57 504.5h20.39M452.57 523.5h20.39M452.57 524.5h20.39M452.57 529.5h20.39M452.57 548.5h20.39M452.57 551.5h20.39M452.57 553.5h20.39M452.57 554.5h20.39M452.57 556.5h20.39M452.57 558.5h20.39M452.57 567.5h20.39M452.57 573.5h20.39M452.57 575.5h20.39M452.57 587.5h20.39M452.57 593.5h20.39M472.91 312.5h20.39M472.91 445.5h20.39M472.91 447.5h20.39M472.91 448.5h20.39M472.91 449.5h20.39M472.91 450.5h20.39M472.91 451.5h20.39M472.91 458.5h20.39M472.91 459.5h20.39M472.91 460.5h20.39M472.91 468.5h20.39M472.91 469.5h20.39M472.91 470.5h20.39M472.91 471.5h20.39M472.91 477.5h20.39M472.91 480.5h20.39M472.91 486.5h20.39M472.91 490.5h20.39M472.91 492.5h20.39M472.91 515.5h20.39M472.91 517.5h20.39M472.91 518.5h20.39M472.91 522.5h20.39M472.91 531.5h20.39M472.91 532.5h20.39M472.91 546.5h20.39M472.91 549.5h20.39M472.91 550.5h20.39M472.91 553.5h20.39M472.91 554.5h20.39M472.91 555.5h20.39M472.91 572.5h20.39M472.91 578.5h20.39M493.24 382.5h20.39M493.24 411.5h20.39M493.24 416.5h20.39M493.24 418.5h20.39M493.24 427.5h20.39M493.24 432.5h20.39M493.24 438.5h20.39M513.58 314.5h20.39M513.58 315.5h20.39M513.58 333.5h20.39M513.58 342.5h20.39M513.58 388.5h20.39M513.58 395.5h20.39M513.58 401.5h20.39M513.58 405.5h20.39M513.58 406.5h20.39M513.58 407.5h20.39M513.58 409.5h20.39M513.58 410.5h20.39M513.58 413.5h20.39M513.58 422.5h20.39M513.58 423.5h20.39M513.58 433.5h20.39M533.91 369.5h20.39M533.91 379.5h20.39M533.91 385.5h20.39M533.91 387.5h20.39M533.91 435.5h20.39M533.91 436.5h20.39"/>
<path stroke="#fecbb7" d="M411.90 356.5h20.39M411.90 505.5h20.39M411.90 545.5h20.39M411.90 546.5h20.39M411.90 592.5h20.39M411.90 593.5h20.39M432.24 337.5h20.39M432.24 338.5h20.39M432.24 425.5h20.39M432.24 427.5h20.39M432.24 437.5h20.39M432.24 449.5h20.39M432.24 451.5h20.39M432.24 452.5h20.39M432.24 461.5h20.39M432.24 466.5h20.39M432.24 469.5h20.39M432.24 470.5h20.39M432.24 475.5h20.39M432.24 476.5h20.39M432.24 485.5h20.39M432.24 489.5h20.39M432.24 510.5h20.39M432.24 516.5h20.39M432.24 518.5h20.39M432.24 519.5h20.39M432.24 520.5h20.39M432.24 521.5h20.39M432.24 525.5h20.39M432.24 526.5h20.39M432.24 540.5h20.39M432.24 543.5h20.39M432.24 544.5h20.39M432.24 545.5h20.39M432.24 548.5h20.39M432.24 549.5h20.39M432.24 551.5h20.39M432.24 555.5h20.39M432.24 557.5h20.39M432.24 560.5h20.39M452.57 358.5h20.39M452.57 376.5h20.39M452.57 385.5h20.39M452.57 447.5h20.39M452.57 451.5h20.39M452.57 460.5h20.39M452.57 464.5h20.39M452.57 466.5h20.39M452.57 491.5h20.39M452.57 493.5h20.39M452.57 494.5h20.39M452.57 588.5h20.39M472.91 352.5h20.39M472.91 456.5h20.39M472.91 472.5h20.39M472.91 526.5h20.39M472.91 530.5h20.39M472.91 534.5h20.39M472.91 559.5h20.39M472.91 560.5h20.39M472.91 566.5h20.39M472.91 567.5h20.39M472.91 568.5h20.39M472.91 570.5h20.39M472.91 593.5h20.39M493.24 316.5h20.39M493.24 318.5h20.39M493.24 320.5h20.39M493.24 332.5h20.39M493.24 333.5h20.39M493.24 547.5h20.39M493.24 563.5h20.39M493.24 567.5h20.39M493.24 577.5h20.39M493.24 578.5h20.39M493.24 589.5h20.39M493.24 590.5h20.39M513.58 392.5h20.39M513.58 437.5h20.39M513.58 448.5h20.39M513.58 456.5h20.39M513.58 488.5h20.39M513.58 585.5h20.39"/>
<path stroke="#abd9eb" d="M411.90 358.5h20.39M411.90 373.5h20.39M432.24 318.5h20.39M432.24 321.5h20.39M432.24 326.5h20.39M432.24 332.5h20.39M432.24 339.5h20.39M432.24 345.5h20.39M432.24 362.5h20.39M432.24 364.5h20.39M432.24 389.5h20.39M432.24 390.5h20.39M432.24 395.5h20.39M432.24 399.5h20.39M432.24 408.5h20.39M432.24 414.5h20.39M432.24 433.5h20.39M452.57 329.5h20.39M452.57 337.5h20.39M452.57 361.5h20.39M452.57 381.5h20.39M452.57 391.5h20.39M452.57 392.5h20.39M452.57 398.5h20.39M452.57 448.5h20.39M452.57 449.5h20.39M472.91 321.5h20.39M472.91 322.5h20.39M472.91 328.5h20.39M472.91 357.5h20.39M472.91 376.5h20.39M472.91 377.5h20.39M472.91 394.5h20.39M472.91 402.5h20.39M472.91 404.5h20.39M472.91 405.5h20.39M472.91 420.5h20.39M472.91 421.5h20.39M472.91 586.5h20.39M493.24 323.5h20.39M493.24 324.5h20.39M493.24 326.5h20.39M493.24 346.5h20.39M493.24 518.5h20.39M493.24 528.5h20.39M493.24 539.5h20.39M493.24 544.5h20.39M493.24 557.5h20.39M493.24 575.5h20.39M513.58 459.5h20.39M513.58 461.5h20.39M513.58 531.5h20.39M513.58 583.5h20.39M533.91 372.5h20.39M533.91 375.5h20.39M533.91 444.5h20.39M533.91 450.5h20.39"/>
<path stroke="#f2e0da" d="M411.90 367.5h20.39M411.90 368.5h20.39M411.90 435.5h20.39M411.90 589.5h20.39M432.24 376.5h20.39M432.24 391.5h20.39M432.24 392.5h20.39M432.24 422.5h20.39M432.24 446.5h20.39M432.24 474.5h20.39M432.24 482.5h20.39M432.24 490.5h20.39M432.24 499.5h20.39M432.24 500.5h20.39M432.24 507.5h20.39M432.24 546.5h20.39M432.24 552.5h20.39M432.24 553.5h20.39M432.24 577.5h20.39M432.24 586.5h20.39M452.57 315.5h20.39M452.57 355.5h20.39M452.57 379.5h20.39M452.57 439.5h20.39M452.57 453.5h20.39M452.57 531.5h20.39M452.57 585.5h20.39M452.57 589.5h20.39M472.91 317.5h20.39M472.91 454.5h20.39M472.91 591.5h20.39M493.24 312.5h20.39M493.24 319.5h20.39M493.24 322.5h20.39M493.24 330.5h20.39M493.24 342.5h20.39M493.24 530.5h20.39M493.24 549.5h20.39M493.24 562.5h20.39M493.24 584.5h20.39M513.58 380.5h20.39M513.58 452.5h20.39M513.58 454.5h20.39M513.58 455.5h20.39M513.58 485.5h20.39M513.58 486.5h20.39M513.58 489.5h20.39M513.58 491.5h20.39M513.58 511.5h20.39M513.58 584.5h20.39M533.91 353.5h20.39M533.91 443.5h20.39"/>
<path stroke="#d7e5ec" d="M411.90 369.5h20.39M411.90 372.5h20.39M411.90 496.5h20.39M411.90 512.5h20.39M432.24 336.5h20.39M432.24 375.5h20.39M432.24 403.5h20.39M432.24 407.5h20.39M432.24 418.5h20.39M432.24 420.5h20.39M432.24 423.5h20.39M432.24 429.5h20.39M432.24 447.5h20.39M432.24 458.5h20.39M432.24 488.5h20.39M432.24 505.5h20.39M452.57 390.5h20.39M452.57 394.5h20.39M452.57 549.5h20.39M472.91 318.5h20.39M472.91 356.5h20.39M472.91 359.5h20.39M472.91 360.5h20.39M472.91 363.5h20.39M472.91 403.5h20.39M472.91 583.5h20.39M472.91 592.5h20.39M493.24 337.5h20.39M493.24 428.5h20.39M493.24 529.5h20.39M493.24 533.5h20.39M493.24 534.5h20.39M493.24 535.5h20.39M493.24 555.5h20.39M493.24 574.5h20.39M513.58 375.5h20.39M513.58 382.5h20.39M513.58 435.5h20.39M513.58 445.5h20.39M513.58 446.5h20.39M513.58 447.5h20.39M513.58 460.5h20.39M513.58 478.5h20.39M533.91 352.5h20.39M533.91 374.5h20.39"/>
<path stroke="#067cc4" d="M411.90 378.5h20.39M411.90 380.5h20.39M411.90 384.5h20.39M411.90 386.5h20.39M411.90 388.5h20.39M411.90 390.5h20.39M411.90 391.5h20.39M411.90 414.5h20.39M411.90 432.5h20.39M452.57 437.5h20.39M452.57 438.5h20.39M452.57 582.5h20.39M472.91 398.5h20.39M493.24 451.5h20.39M493.24 452.5h20.39M493.24 501.5h20.39M493.24 502.5h20.39M493.24 508.5h20.39M513.58 579.5h20.39M533.91 459.5h20.39M533.91 461.5h20.39M533.91 465.5h20.39M533.91 466.5h20.39M533.91 468.5h20.39M533.91 469.5h20.39M533.91 471.5h20.39M533.91 480.5h20.39M533.91 482.5h20.39M533.91 496.5h20.39M533.91 510.5h20.39M533.91 511.5h20.39M533.91 512.5h20.39M533.91 519.5h20.39M533.91 521.5h20.39M533.91 523.5h20.39M533.91 524.5h20.39M533.91 528.5h20.39M533.91 530.5h20.39M533.91 533.5h20.39M533.91 536.5h20.39M533.91 543.5h20.39M533.91 577.5h20.39M533.91 579.5h20.39M533.91 582.5h20.39M533.91 586.5h20.39M533.91 588.5h20.39M533.91 593.5h20.39"/>
<path stroke="#0672bc" d="M411.90 385.5h20.39M411.90 387.5h20.39M411.90 389.5h20.39M411.90 394.5h20.39M411.90 395.5h20.39M411.90 397.5h20.39M411.90 398.5h20.39M411.90 399.5h20.39M411.90 403.5h20.39M411.90 429.5h20.39M411.90 433.5h20.39M432.24 312.5h20.39M493.24 348.5h20.39M493.24 351.5h20.39M493.24 352.5h20.39M493.24 499.5h20.39M533.91 462.5h20.39M533.91 463.5h20.39M533.91 467.5h20.39M533.91 470.5h20.39M533.91 479.5h20.39M533.91 483.5h20.39M533.91 484.5h20.39M533.91 509.5h20.39M533.91 516.5h20.39M533.91 520.5h20.39M533.91 522.5h20.39M533.91 529.5h20.39M533.91 532.5h20.39M533.91 534.5h20.39M533.91 537.5h20.39M533.91 540.5h20.39M533.91 575.5h20.39M533.91 576.5h20.39M533.91 590.5h20.39"/>
<path stroke="#f5151a" d="M411.90 439.5h20.39M411.90 441.5h20.39M411.90 449.5h20.39M411.90 452.5h20.39M411.90 454.5h20.39M411.90 457.5h20.39M411.90 458.5h20.39M411.90 478.5h20.39M411.90 493.5h20.39M472.91 498.5h20.39M493.24 373.5h20.39M493.24 384.5h20.39M493.24 387.5h20.39M493.24 392.5h20.39M493.24 393.5h20.39M493.24 401.5h20.39M493.24 592.5h20.39M513.58 322.5h20.39M513.58 323.5h20.39M513.58 325.5h20.39M513.58 367.5h20.39M513.58 369.5h20.39M513.58 429.5h20.39M533.91 314.5h20.39M533.91 320.5h20.39M533.91 337.5h20.39M533.91 338.5h20.39M533.91 339.5h20.39M533.91 340.5h20.39M533.91 361.5h20.39M533.91 410.5h20.39M533.91 412.5h20.39M533.91 414.5h20.39M533.91 415.5h20.39M533.91 420.5h20.39M533.91 421.5h20.39M533.91 422.5h20.39M533.91 424.5h20.39M533.91 437.5h20.39"/>
<path stroke="#f00612" d="M411.90 440.5h20.39M411.90 450.5h20.39M411.90 451.5h20.39M472.91 496.5h20.39M472.91 497.5h20.39M493.24 370.5h20.39M493.24 372.5h20.39M493.24 380.5h20.39M493.24 388.5h20.39M493.24 390.5h20.39M493.24 391.5h20.39M493.24 398.5h20.39M493.24 399.5h20.39M493.24 400.5h20.39M493.24 404.5h20.39M493.24 588.5h20.39M493.24 591.5h20.39M513.58 330.5h20.39M513.58 353.5h20.39M513.58 354.5h20.39M513.58 355.5h20.39M513.58 366.5h20.39M513.58 368.5h20.39M513.58 428.5h20.39M533.91 312.5h20.39M533.91 313.5h20.39M533.91 316.5h20.39M533.91 318.5h20.39M533.91 319.5h20.39M533.91 323.5h20.39M533.91 324.5h20.39M533.91 327.5h20.39M533.91 328.5h20.39M533.91 332.5h20.39M533.91 333.5h20.39M533.91 334.5h20.39M533.91 335.5h20.39M533.91 336.5h20.39M533.91 341.5h20.39M533.91 342.5h20.39M533.91 344.5h20.39M533.91 345.5h20.39M533.91 349.5h20.39M533.91 362.5h20.39M533.91 363.5h20.39M533.91 364.5h20.39M533.91 407.5h20.39M533.91 408.5h20.39M533.91 409.5h20.39M533.91 411.5h20.39M533.91 418.5h20.39M533.91 419.5h20.39M533.91 423.5h20.39M533.91 425.5h20.39M533.91 426.5h20.39"/>
<path stroke="#ff614b" d="M411.90 447.5h20.39M411.90 469.5h20.39M411.90 470.5h20.39M411.90 471.5h20.39M411.90 489.5h20.39M411.90 502.5h20.39M411.90 522.5h20.39M411.90 523.5h20.39M411.90 524.5h20.39M411.90 526.5h20.39M411.90 534.5h20.39M411.90 540.5h20.39M411.90 560.5h20.39M411.90 561.5h20.39M432.24 583.5h20.39M452.57 502.5h20.39M452.57 506.5h20.39M452.57 508.5h20.39M452.57 511.5h20.39M452.57 519.5h20.39M452.57 520.5h20.39M452.57 526.5h20.39M452.57 570.5h20.39M452.57 571.5h20.39M452.57 572.5h20.39M452.57 592.5h20.39M472.91 442.5h20.39M472.91 452.5h20.39M472.91 481.5h20.39M472.91 507.5h20.39M472.91 510.5h20.39M472.91 513.5h20.39M472.91 527.5h20.39M493.24 396.5h20.39M493.24 407.5h20.39M493.24 408.5h20.39M493.24 409.5h20.39M513.58 317.5h20.39M513.58 332.5h20.39M513.58 343.5h20.39M513.58 344.5h20.39M513.58 349.5h20.39M513.58 350.5h20.39M513.58 357.5h20.39M513.58 358.5h20.39M513.58 359.5h20.39M513.58 362.5h20.39M513.58 364.5h20.39M513.58 415.5h20.39M513.58 416.5h20.39M513.58 419.5h20.39M513.58 420.5h20.39M513.58 426.5h20.39M533.91 354.5h20.39M533.91 377.5h20.39M533.91 394.5h20.39M533.91 396.5h20.39M533.91 398.5h20.39M533.91 428.5h20.39"/>
<path stroke="#fa2422" d="M411.90 448.5h20.39M411.90 453.5h20.39M411.90 455.5h20.39M411.90 456.5h20.39M411.90 467.5h20.39M411.90 480.5h20.39M411.90 486.5h20.39M472.91 500.5h20.39M472.91 502.5h20.39M472.91 503.5h20.39M472.91 504.5h20.39M472.91 511.5h20.39M493.24 383.5h20.39M493.24 385.5h20.39M493.24 395.5h20.39M493.24 403.5h20.39M493.24 405.5h20.39M493.24 434.5h20.39M513.58 321.5h20.39M513.58 326.5h20.39M513.58 329.5h20.39M513.58 356.5h20.39M513.58 360.5h20.39M533.91 329.5h20.39M533.91 330.5h20.39M533.91 331.5h20.39M533.91 343.5h20.39M533.91 347.5h20.39M533.91 357.5h20.39M533.91 413.5h20.39M533.91 427.5h20.39M533.91 429.5h20.39M533.91 432.5h20.39"/>
<path stroke="#fc3b30" d="M411.90 459.5h20.39M411.90 462.5h20.39M411.90 464.5h20.39M411.90 475.5h20.39M411.90 477.5h20.39M411.90 479.5h20.39M411.90 481.5h20.39M411.90 482.5h20.39M411.90 483.5h20.39M411.90 485.5h20.39M411.90 487.5h20.39M411.90 491.5h20.39M411.90 492.5h20.39M432.24 582.5h20.39M432.24 584.5h20.39M472.91 483.5h20.39M472.91 512.5h20.39M472.91 528.5h20.39M493.24 386.5h20.39M493.24 397.5h20.39M493.24 402.5h20.39M493.24 406.5h20.39M513.58 324.5h20.39M513.58 328.5h20.39M513.58 331.5h20.39M513.58 345.5h20.39M533.91 348.5h20.39M533.91 359.5h20.39M533.91 397.5h20.39M533.91 401.5h20.39M533.91 403.5h20.39M533.91 404.5h20.39M533.91 405.5h20.39M533.91 430.5h20.39M533.91 438.5h20.39"/>
<path stroke="#ff523e" d="M411.90 463.5h20.39M411.90 465.5h20.39M411.90 466.5h20.39M411.90 476.5h20.39M411.90 484.5h20.39M411.90 488.5h20.39M411.90 490.5h20.39M411.90 536.5h20.39M411.90 539.5h20.39M432.24 468.5h20.39M452.57 507.5h20.39M472.91 484.5h20.39M472.91 494.5h20.39M472.91 501.5h20.39M472.91 505.5h20.39M472.91 506.5h20.39M493.24 433.5h20.39M493.24 435.5h20.39M513.58 318.5h20.39M513.58 327.5h20.39M513.58 334.5h20.39M513.58 335.5h20.39M513.58 341.5h20.39M513.58 348.5h20.39M513.58 361.5h20.39M533.91 350.5h20.39M533.91 355.5h20.39M533.91 356.5h20.39M533.91 395.5h20.39M533.91 400.5h20.39M533.91 402.5h20.39M533.91 431.5h20.39M533.91 433.5h20.39"/>
<path stroke="#e40411" d="M411.90 494.5h20.39M432.24 435.5h20.39M472.91 495.5h20.39M472.91 499.5h20.39M493.24 371.5h20.39M493.24 379.5h20.39M493.24 389.5h20.39M493.24 394.5h20.39M493.24 436.5h20.39M493.24 585.5h20.39M493.24 593.5h20.39M513.58 365.5h20.39M533.91 315.5h20.39M533.91 317.5h20.39M533.91 321.5h20.39M533.91 322.5h20.39M533.91 325.5h20.39M533.91 326.5h20.39M533.91 346.5h20.39M533.91 360.5h20.39M533.91 406.5h20.39M533.91 416.5h20.39M533.91 417.5h20.39"/>
<path stroke="#fddacc" d="M411.90 514.5h20.39M432.24 367.5h20.39M432.24 377.5h20.39M432.24 378.5h20.39M432.24 385.5h20.39M432.24 405.5h20.39M432.24 406.5h20.39M432.24 478.5h20.39M432.24 480.5h20.39M432.24 483.5h20.39M432.24 484.5h20.39M432.24 503.5h20.39M432.24 515.5h20.39M432.24 529.5h20.39M432.24 530.5h20.39M432.24 541.5h20.39M432.24 542.5h20.39M432.24 550.5h20.39M432.24 554.5h20.39M432.24 556.5h20.39M432.24 558.5h20.39M432.24 587.5h20.39M432.24 593.5h20.39M452.57 314.5h20.39M452.57 386.5h20.39M452.57 441.5h20.39M452.57 452.5h20.39M452.57 468.5h20.39M452.57 480.5h20.39M452.57 481.5h20.39M452.57 492.5h20.39M452.57 510.5h20.39M452.57 532.5h20.39M452.57 534.5h20.39M452.57 538.5h20.39M452.57 584.5h20.39M472.91 316.5h20.39M472.91 353.5h20.39M472.91 354.5h20.39M472.91 465.5h20.39M472.91 565.5h20.39M472.91 581.5h20.39M472.91 582.5h20.39M472.91 588.5h20.39M472.91 589.5h20.39M493.24 338.5h20.39M493.24 339.5h20.39M493.24 419.5h20.39M493.24 422.5h20.39M493.24 429.5h20.39M493.24 512.5h20.39M493.24 545.5h20.39M493.24 561.5h20.39M493.24 566.5h20.39M493.24 582.5h20.39M493.24 583.5h20.39M513.58 393.5h20.39M513.58 438.5h20.39M513.58 450.5h20.39M513.58 453.5h20.39M513.58 487.5h20.39M513.58 490.5h20.39M513.58 544.5h20.39M533.91 380.5h20.39M533.91 381.5h20.39M533.91 382.5h20.39M533.91 383.5h20.39M533.91 384.5h20.39"/>
<path stroke="#d90211" d="M432.24 434.5h20.39"/>
<path stroke="#065eae" d="M493.24 350.5h20.39M493.24 444.5h20.39M493.24 446.5h20.39M493.24 447.5h20.39M493.24 500.5h20.39M533.91 456.5h20.39M533.91 457.5h20.39M533.91 464.5h20.39M533.91 472.5h20.39M533.91 475.5h20.39M533.91 477.5h20.39M533.91 546.5h20.39M533.91 550.5h20.39M533.91 552.5h20.39M533.91 556.5h20.39M533.91 560.5h20.39M533.91 566.5h20.39M533.91 567.5h20.39M533.91 568.5h20.39M533.91 573.5h20.39M533.91 583.5h20.39"/>
<path stroke="#cd0010" d="M493.24 374.5h20.39M493.24 377.5h20.39M493.24 586.5h20.39M493.24 587.5h20.39"/>
<path stroke="#a40011" d="M493.24 375.5h20.39M493.24 376.5h20.39"/>
<path stroke="#7a0012" d="M493.24 378.5h20.39"/>
<path stroke="#073e87" d="M493.24 441.5h20.39M493.24 442.5h20.39M493.24 443.5h20.39"/>
<path stroke="#0654a6" d="M493.24 445.5h20.39M493.24 449.5h20.39M533.91 458.5h20.39M533.91 476.5h20.39M533.91 547.5h20.39M533.91 548.5h20.39M533.91 549.5h20.39M533.91 553.5h20.39M533.91 554.5h20.39M533.91 555.5h20.39M533.91 570.5h20.39M533.91 572.5h20.39"/>
<path stroke="#064997" d="M493.24 448.5h20.39M533.91 473.5h20.39M533.91 474.5h20.39M533.91 544.5h20.39M533.91 545.5h20.39M533.91 565.5h20.39M533.91 571.5h20.39"/>
</g>
<g stroke="#1a1a1a" stroke-width="0.85" fill="none" stroke-linejoin="miter">
<path d="M462.7 305.8V300.5H483.1V305.8"/>
<path d="M442.4 305.8V298.8H472.9V300.5"/>
<path d="M422.1 305.8V297.6H457.6V298.8"/>
<path d="M523.7 305.8V298.8H544.0V305.8"/>
<path d="M503.4 305.8V292.5H533.9V298.8"/>
<path d="M439.6 297.6V277.5H518.6V292.5"/>
<path d="M407.5 366.8H383.3V507.5H407.5"/>
<path d="M411 339.3H407.5V393.3H411"/>
<path d="M411 322H409.3V352"/>
<path d="M409.6 376V394"/>
<path d="M410.9 352V594"/>
<path d="M411 461.8H407.5V554.3H411"/>
<path d="M409.8 470V520"/>
<path d="M410 560V590"/>
</g>
<defs><linearGradient id="panelDgrad" x1="0" y1="1" x2="0" y2="0">
<stop offset="0.000" stop-color="#082868"/>
<stop offset="0.100" stop-color="#0654a6"/>
<stop offset="0.200" stop-color="#067cc4"/>
<stop offset="0.250" stop-color="#0696d0"/>
<stop offset="0.300" stop-color="#12aada"/>
<stop offset="0.388" stop-color="#88cee8"/>
<stop offset="0.463" stop-color="#cee4ee"/>
<stop offset="0.500" stop-color="#e8e6e8"/>
<stop offset="0.550" stop-color="#fddacc"/>
<stop offset="0.625" stop-color="#ffac8e"/>
<stop offset="0.700" stop-color="#ff8064"/>
<stop offset="0.775" stop-color="#ff523e"/>
<stop offset="0.825" stop-color="#fa2422"/>
<stop offset="0.875" stop-color="#f00612"/>
<stop offset="0.950" stop-color="#cd0010"/>
<stop offset="1.000" stop-color="#7a0012"/>
</linearGradient></defs>
<rect x="569.90" y="299.40" width="8.9" height="127.40" fill="url(#panelDgrad)"/>
<text class="a" font-size="6.6" x="582.1" y="305.3">2</text>
<text class="a" font-size="6.6" x="582.1" y="335.4">1</text>
<text class="a" font-size="6.6" x="582.1" y="365.5">0</text>
<text class="a" font-size="6.6" x="582.1" y="395.6">-1</text>
<text class="a" font-size="6.6" x="582.1" y="425.7">-2</text>
<text class="a b" font-size="6.8" x="590.2" y="304.1">class</text>
<rect x="590.20" y="306.40" width="8.8" height="9.34" fill="#f8003c" stroke="#8c8c8c" stroke-width="0.6"/>
<text class="a" font-size="6.9" x="601.6" y="313.6">Con</text>
<rect x="590.20" y="315.74" width="8.8" height="9.34" fill="#0db14b" stroke="#8c8c8c" stroke-width="0.6"/>
<text class="a" font-size="6.9" x="601.6" y="322.9">H-AAPP</text>
<rect x="590.20" y="325.08" width="8.8" height="9.34" fill="#3c55d8" stroke="#8c8c8c" stroke-width="0.6"/>
<text class="a" font-size="6.9" x="601.6" y="332.2">H-NAAB</text>
<rect x="590.20" y="334.42" width="8.8" height="9.34" fill="#00d2f0" stroke="#8c8c8c" stroke-width="0.6"/>
<text class="a" font-size="6.9" x="601.6" y="341.6">L-AAPP</text>
<rect x="590.20" y="343.76" width="8.8" height="9.34" fill="#ff00e6" stroke="#8c8c8c" stroke-width="0.6"/>
<text class="a" font-size="6.9" x="601.6" y="350.9">L-NAAB</text>
<rect x="590.20" y="353.10" width="8.8" height="9.34" fill="#ffe600" stroke="#8c8c8c" stroke-width="0.6"/>
<text class="a" font-size="6.9" x="601.6" y="360.3">M</text>
<rect x="590.20" y="362.44" width="8.8" height="9.34" fill="#b400b4" stroke="#8c8c8c" stroke-width="0.6"/>
<text class="a" font-size="6.9" x="601.6" y="369.6">ND</text>
<text class="a" font-size="8.85" stroke="#000" stroke-width="0.2" transform="translate(419.3 597.3) rotate(90)">L-NAAB</text>
<text class="a" font-size="8.85" stroke="#000" stroke-width="0.2" transform="translate(439.6 597.3) rotate(90)">M</text>
<text class="a" font-size="8.85" stroke="#000" stroke-width="0.2" transform="translate(459.9 597.3) rotate(90)">H-NAAB</text>
<text class="a" font-size="8.85" stroke="#000" stroke-width="0.2" transform="translate(480.3 597.3) rotate(90)">L-AAPP</text>
<text class="a" font-size="8.85" stroke="#000" stroke-width="0.2" transform="translate(500.6 597.3) rotate(90)">H-AAPP</text>
<text class="a" font-size="8.85" stroke="#000" stroke-width="0.2" transform="translate(520.9 597.3) rotate(90)">Con</text>
<text class="a" font-size="8.85" stroke="#000" stroke-width="0.2" transform="translate(541.3 597.3) rotate(90)">ND</text>
</g>
</svg></body></html>
